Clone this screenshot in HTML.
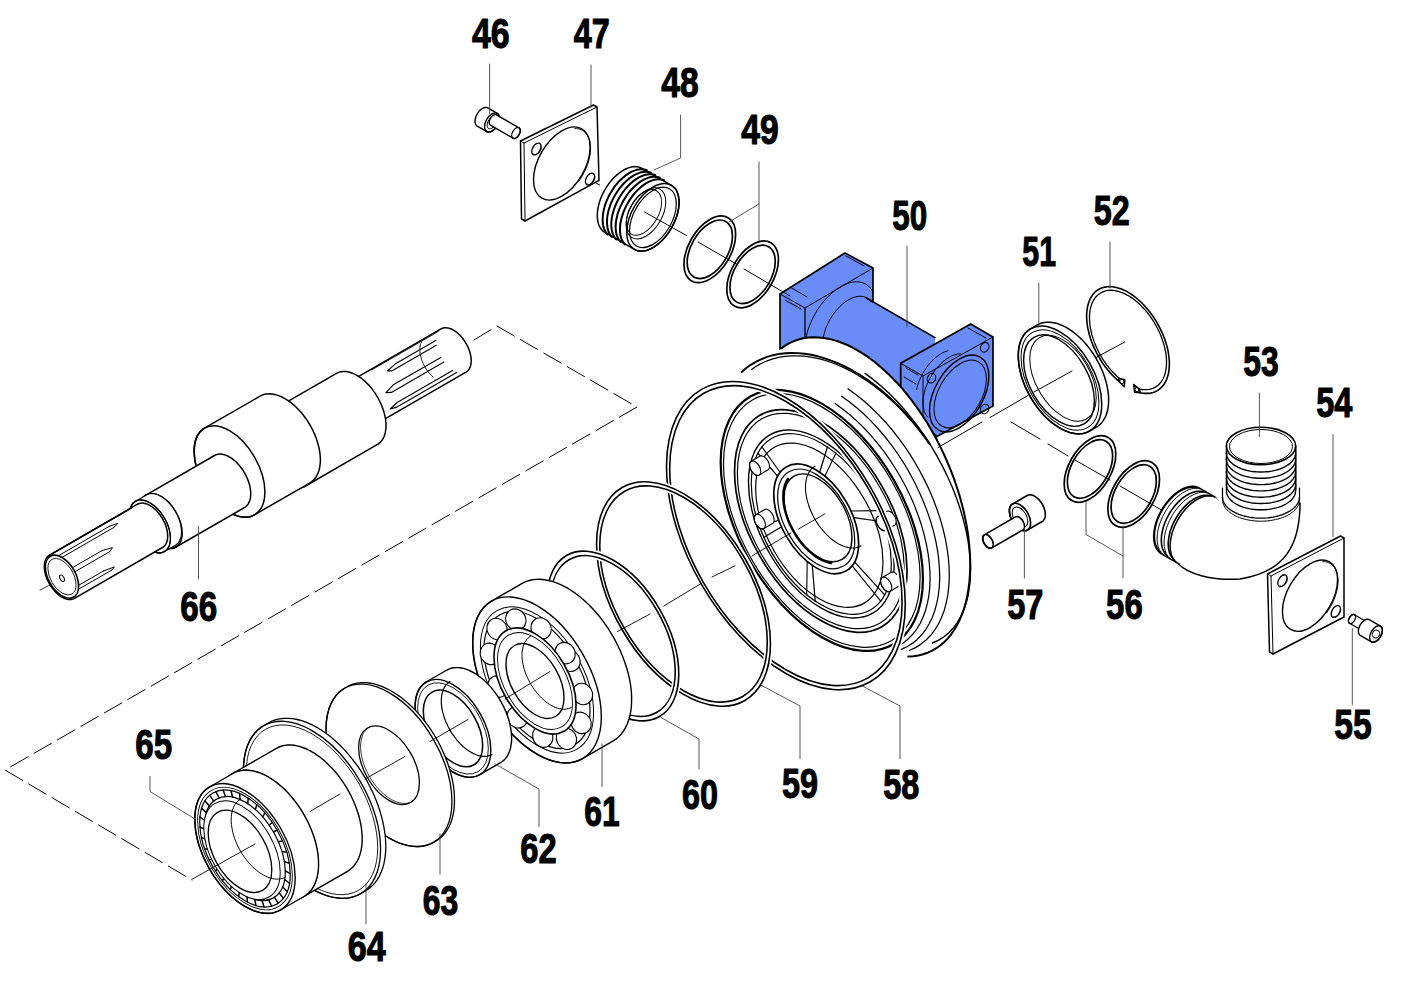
<!DOCTYPE html>
<html><head><meta charset="utf-8"><style>
html,body{margin:0;padding:0;background:#fff;}
svg{display:block;}
.lb{font-family:"Liberation Sans",sans-serif;font-weight:bold;font-size:42.5px;fill:#000;stroke:#000;stroke-width:1.1px;}
</style></head><body>
<svg width="1406" height="988" viewBox="0 0 1406 988" stroke-linejoin="round" stroke-linecap="round">
<rect width="1406" height="988" fill="#fff"/>
<path d="M474 340 L497 326 L637 407 L5 770 L192 880" fill="none" stroke="#000" stroke-width="1.0" stroke-dasharray="20 7"/>
<path d="M441 328.9 L441.9 328.5 L442.9 328.1 L443.9 327.9 L444.9 327.8 L446 327.8 L447.2 327.9 L448.3 328.1 L449.5 328.4 L450.7 328.8 L452 329.3 L453.2 330 L454.4 330.7 L455.7 331.6 L456.9 332.5 L458.1 333.5 L459.3 334.6 L460.4 335.8 L461.5 337 L462.6 338.3 L463.6 339.7 L464.6 341.1 L465.6 342.6 L466.4 344.1 L467.2 345.7 L468 347.2 L468.7 348.8 L469.3 350.4 L469.8 352 L470.2 353.6 L470.6 355.1 L470.9 356.7 L471 358.2 L471.2 359.7 L471.2 361.1 L471.1 362.5 L471 363.8 L470.7 365.1 L470.4 366.3 L470 367.4 L469.5 368.4 L469 369.4 L468.3 370.2 L467.6 371 L466.8 371.7 L466 372.2 L369.5 427.9 L368.6 428.4 L367.6 428.7 L366.6 429 L365.6 429.1 L364.5 429.1 L363.3 429 L362.2 428.8 L361 428.5 L359.8 428 L358.5 427.5 L357.3 426.9 L356.1 426.1 L354.8 425.3 L353.6 424.4 L352.4 423.4 L351.2 422.3 L350.1 421.1 L349 419.8 L347.9 418.5 L346.9 417.2 L345.9 415.7 L344.9 414.3 L344.1 412.7 L343.3 411.2 L342.5 409.6 L341.8 408.1 L341.2 406.5 L340.7 404.9 L340.3 403.3 L339.9 401.7 L339.6 400.2 L339.5 398.6 L339.3 397.2 L339.3 395.7 L339.4 394.3 L339.5 393 L339.8 391.7 L340.1 390.6 L340.5 389.4 L341 388.4 L341.5 387.5 L342.2 386.6 L342.9 385.9 L343.7 385.2 L344.5 384.6Z" fill="#fff" stroke="#000" stroke-width="1.5"/>
<path d="M456.6 372.4 L396.1 407.4 L390.2 408.9 L397.1 402.5 L452.6 370.4" fill="none" stroke="#000" stroke-width="1.1"/>
<path d="M443.9 362.1 L391.4 392.4 L385.9 392.6 L393.3 384.8 L440.8 357.4" fill="none" stroke="#000" stroke-width="1.1"/>
<path d="M436.3 345.2 L391.8 370.9 L387.5 370.9 L396.3 363.2 L435.8 340.4" fill="none" stroke="#000" stroke-width="1.1"/>
<path d="M371.7 369.9 L438.2 331.5" fill="none" stroke="#000" stroke-width="0.9"/>
<path d="M432.9 376.9 L431.7 375.8 L430.6 374.6 L429.4 373.3 L428.3 371.9 L427.3 370.5 L426.3 369.1 L425.3 367.6 L424.4 366 L423.6 364.5 L422.9 362.9 L422.2 361.3 L421.6 359.6 L421.1 358 L420.7 356.4 L420.3 354.8 L420.1 353.2 L419.9 351.7 L419.8 350.2 L419.8 348.8 L419.9 347.4 L420.1 346 L420.4 344.8 L420.8 343.6 L421.2 342.5 L421.7 341.5 L422.3 340.6 L423 339.7" fill="none" stroke="#000" stroke-width="0.9"/>
<path d="M336.5 373.4 L338 372.6 L339.6 372.1 L341.2 371.7 L342.9 371.5 L344.7 371.5 L346.6 371.6 L348.5 372 L350.5 372.5 L352.5 373.2 L354.5 374.1 L356.5 375.1 L358.5 376.3 L360.5 377.7 L362.5 379.2 L364.5 380.9 L366.4 382.7 L368.3 384.6 L370.2 386.7 L371.9 388.8 L373.6 391.1 L375.2 393.4 L376.8 395.8 L378.2 398.3 L379.5 400.8 L380.8 403.4 L381.9 406 L382.8 408.6 L383.7 411.2 L384.4 413.8 L385 416.4 L385.5 418.9 L385.8 421.4 L386 423.8 L386 426.2 L385.9 428.5 L385.6 430.7 L385.3 432.7 L384.7 434.7 L384.1 436.5 L383.3 438.2 L382.4 439.8 L381.3 441.2 L380.2 442.4 L378.9 443.5 L377.5 444.4 L305.5 486 L304 486.7 L302.4 487.3 L300.8 487.6 L299.1 487.8 L297.3 487.9 L295.4 487.7 L293.5 487.4 L291.5 486.8 L289.5 486.1 L287.5 485.3 L285.5 484.2 L283.5 483 L281.5 481.6 L279.5 480.1 L277.5 478.5 L275.6 476.7 L273.7 474.7 L271.8 472.7 L270.1 470.5 L268.4 468.3 L266.8 465.9 L265.2 463.5 L263.8 461 L262.5 458.5 L261.3 455.9 L260.1 453.3 L259.2 450.7 L258.3 448.1 L257.6 445.5 L257 443 L256.5 440.4 L256.2 437.9 L256 435.5 L256 433.1 L256.1 430.9 L256.4 428.7 L256.8 426.6 L257.3 424.7 L257.9 422.8 L258.7 421.1 L259.6 419.6 L260.7 418.2 L261.8 416.9 L263.1 415.9 L264.5 414.9Z" fill="#fff" stroke="#000" stroke-width="1.5"/>
<ellipse cx="285" cy="450.5" rx="23.7" ry="41" transform="rotate(-30 285 450.5)" fill="none" stroke="#000" stroke-width="1.5"/>
<path d="M260 396.2 L261.8 395.3 L263.7 394.6 L265.7 394.1 L267.9 393.9 L270.1 393.8 L272.3 394 L274.7 394.4 L277 395.1 L279.5 395.9 L281.9 397 L284.4 398.3 L286.9 399.8 L289.3 401.4 L291.7 403.3 L294.2 405.3 L296.5 407.5 L298.8 409.9 L301.1 412.3 L303.2 415 L305.3 417.7 L307.3 420.6 L309.1 423.5 L310.9 426.5 L312.5 429.6 L314 432.8 L315.3 435.9 L316.5 439.1 L317.5 442.3 L318.4 445.5 L319.2 448.6 L319.7 451.7 L320.1 454.7 L320.3 457.7 L320.4 460.6 L320.2 463.3 L319.9 466 L319.5 468.5 L318.8 470.9 L318 473.1 L317 475.2 L315.9 477.1 L314.7 478.8 L313.2 480.3 L311.7 481.6 L310 482.8 L254.5 514.8 L252.7 515.7 L250.8 516.4 L248.8 516.9 L246.6 517.1 L244.4 517.1 L242.2 516.9 L239.8 516.5 L237.5 515.9 L235 515 L232.6 513.9 L230.1 512.7 L227.6 511.2 L225.2 509.5 L222.8 507.7 L220.3 505.6 L218 503.5 L215.7 501.1 L213.4 498.6 L211.3 496 L209.2 493.2 L207.3 490.4 L205.4 487.4 L203.6 484.4 L202 481.3 L200.5 478.2 L199.2 475 L198 471.8 L197 468.7 L196.1 465.5 L195.3 462.3 L194.8 459.3 L194.4 456.2 L194.2 453.3 L194.2 450.4 L194.3 447.6 L194.6 445 L195.1 442.4 L195.7 440 L196.5 437.8 L197.5 435.7 L198.6 433.9 L199.8 432.1 L201.3 430.6 L202.8 429.3 L204.5 428.2Z" fill="#fff" stroke="#000" stroke-width="1.5"/>
<ellipse cx="229.5" cy="471.5" rx="28.9" ry="50" transform="rotate(-30 229.5 471.5)" fill="none" stroke="#000" stroke-width="1.5"/>
<path d="M214.5 455.5 L215.6 455 L216.7 454.6 L217.9 454.3 L219.2 454.1 L220.5 454.1 L221.9 454.2 L223.3 454.5 L224.7 454.9 L226.2 455.4 L227.7 456 L229.1 456.8 L230.6 457.7 L232.1 458.7 L233.5 459.8 L235 461 L236.4 462.3 L237.8 463.7 L239.1 465.2 L240.4 466.8 L241.7 468.5 L242.9 470.2 L244 471.9 L245 473.7 L246 475.6 L246.9 477.5 L247.7 479.4 L248.4 481.3 L249 483.2 L249.6 485.1 L250 487 L250.3 488.8 L250.6 490.7 L250.7 492.4 L250.7 494.2 L250.6 495.8 L250.5 497.4 L250.2 498.9 L249.8 500.4 L249.3 501.7 L248.7 502.9 L248.1 504.1 L247.3 505.1 L246.4 506 L245.5 506.8 L244.5 507.5 L176 547 L174.9 547.6 L173.8 548 L172.6 548.3 L171.3 548.4 L170 548.4 L168.6 548.3 L167.2 548.1 L165.8 547.7 L164.3 547.2 L162.8 546.5 L161.4 545.8 L159.9 544.9 L158.4 543.9 L157 542.8 L155.5 541.5 L154.1 540.2 L152.7 538.8 L151.4 537.3 L150.1 535.7 L148.8 534.1 L147.7 532.4 L146.5 530.6 L145.5 528.8 L144.5 526.9 L143.6 525.1 L142.8 523.2 L142.1 521.3 L141.5 519.3 L140.9 517.4 L140.5 515.6 L140.2 513.7 L139.9 511.9 L139.8 510.1 L139.8 508.4 L139.9 506.7 L140 505.1 L140.3 503.6 L140.7 502.2 L141.2 500.8 L141.8 499.6 L142.4 498.5 L143.2 497.4 L144.1 496.5 L145 495.7 L146 495.1Z" fill="#fff" stroke="#000" stroke-width="1.5"/>
<ellipse cx="161" cy="521" rx="17.3" ry="30" transform="rotate(-30 161 521)" fill="none" stroke="#000" stroke-width="1.5"/>
<path d="M146.5 494.9 L147.5 494.4 L148.7 494 L149.8 493.7 L151.1 493.6 L152.3 493.6 L153.7 493.7 L155 493.9 L156.4 494.3 L157.8 494.8 L159.2 495.4 L160.6 496.2 L162.1 497 L163.5 498 L164.9 499.1 L166.3 500.2 L167.7 501.5 L169 502.9 L170.3 504.3 L171.6 505.8 L172.8 507.4 L173.9 509.1 L175 510.8 L176 512.6 L176.9 514.3 L177.8 516.2 L178.6 518 L179.3 519.8 L179.9 521.7 L180.4 523.5 L180.8 525.4 L181.1 527.2 L181.4 528.9 L181.5 530.6 L181.5 532.3 L181.4 533.9 L181.3 535.4 L181 536.9 L180.6 538.3 L180.1 539.6 L179.6 540.8 L178.9 541.9 L178.2 542.9 L177.4 543.8 L176.5 544.5 L175.5 545.2 L164.5 551.5 L163.5 552 L162.3 552.4 L161.2 552.7 L159.9 552.8 L158.7 552.9 L157.3 552.7 L156 552.5 L154.6 552.1 L153.2 551.6 L151.8 551 L150.4 550.3 L148.9 549.4 L147.5 548.5 L146.1 547.4 L144.7 546.2 L143.3 544.9 L142 543.6 L140.7 542.1 L139.4 540.6 L138.2 539 L137.1 537.3 L136 535.6 L135 533.9 L134.1 532.1 L133.2 530.3 L132.4 528.4 L131.7 526.6 L131.1 524.8 L130.6 522.9 L130.2 521.1 L129.9 519.3 L129.6 517.5 L129.5 515.8 L129.5 514.1 L129.6 512.5 L129.7 511 L130 509.5 L130.4 508.2 L130.9 506.9 L131.4 505.7 L132.1 504.6 L132.8 503.6 L133.6 502.7 L134.5 501.9 L135.5 501.3Z" fill="#fff" stroke="#000" stroke-width="1.2"/>
<ellipse cx="150" cy="526.4" rx="16.7" ry="29" transform="rotate(-30 150 526.4)" fill="none" stroke="#000" stroke-width="1.2"/>
<ellipse cx="150" cy="526.4" rx="16.7" ry="29" transform="rotate(-30 150 526.4)" fill="none" stroke="#000" stroke-width="1.2"/>
<path d="M137.5 504.2 L138.4 503.8 L139.4 503.5 L140.4 503.2 L141.4 503.1 L142.5 503.1 L143.7 503.2 L144.8 503.4 L146 503.7 L147.2 504.1 L148.5 504.7 L149.7 505.3 L150.9 506 L152.2 506.9 L153.4 507.8 L154.6 508.8 L155.8 509.9 L156.9 511.1 L158 512.3 L159.1 513.7 L160.1 515 L161.1 516.5 L162.1 517.9 L162.9 519.4 L163.7 521 L164.5 522.5 L165.2 524.1 L165.8 525.7 L166.3 527.3 L166.7 528.9 L167.1 530.5 L167.4 532 L167.5 533.5 L167.7 535 L167.7 536.5 L167.6 537.8 L167.5 539.2 L167.2 540.4 L166.9 541.6 L166.5 542.7 L166 543.8 L165.5 544.7 L164.8 545.6 L164.1 546.3 L163.3 547 L162.5 547.5 L74.5 598.4 L73.6 598.8 L72.6 599.1 L71.6 599.4 L70.6 599.5 L69.5 599.5 L68.3 599.4 L67.2 599.2 L66 598.9 L64.8 598.5 L63.5 597.9 L62.3 597.3 L61.1 596.6 L59.8 595.7 L58.6 594.8 L57.4 593.8 L56.2 592.7 L55.1 591.5 L54 590.3 L52.9 588.9 L51.9 587.6 L50.9 586.1 L49.9 584.7 L49.1 583.2 L48.3 581.6 L47.5 580.1 L46.8 578.5 L46.2 576.9 L45.7 575.3 L45.3 573.7 L44.9 572.1 L44.6 570.6 L44.5 569.1 L44.3 567.6 L44.3 566.1 L44.4 564.8 L44.5 563.4 L44.8 562.2 L45.1 561 L45.5 559.9 L46 558.8 L46.5 557.9 L47.2 557 L47.9 556.3 L48.7 555.6 L49.5 555.1Z" fill="#fff" stroke="#000" stroke-width="1.5"/>
<path d="M63.5 597.9 L111.9 570" fill="none" stroke="#000" stroke-width="1.0"/>
<path d="M60.2 595.9 L103.6 570.9" fill="none" stroke="#000" stroke-width="1.0"/>
<path d="M111.9 570 L114.4 566.9 L103.6 570.9" fill="none" stroke="#000" stroke-width="1.0"/>
<path d="M50.6 585.8 L109.6 551.7" fill="none" stroke="#000" stroke-width="1.0"/>
<path d="M48.3 581.6 L102.2 550.5" fill="none" stroke="#000" stroke-width="1.0"/>
<path d="M109.6 551.7 L112.5 547.6 L102.2 550.5" fill="none" stroke="#000" stroke-width="1.0"/>
<path d="M44.3 567.6 L113.9 527.4" fill="none" stroke="#000" stroke-width="1.0"/>
<path d="M44.5 563.8 L109 526.5" fill="none" stroke="#000" stroke-width="1.0"/>
<path d="M113.9 527.4 L117.9 523.3 L109 526.5" fill="none" stroke="#000" stroke-width="1.0"/>
<path d="M47.2 557 L127.3 510.8" fill="none" stroke="#000" stroke-width="1.0"/>
<path d="M49.3 555.2 L124.4 511.8" fill="none" stroke="#000" stroke-width="1.0"/>
<path d="M127.3 510.8 L132.1 507.6 L124.4 511.8" fill="none" stroke="#000" stroke-width="1.0"/>
<path d="M54.6 552.2 L128.6 509.5" fill="none" stroke="#000" stroke-width="1.0"/>
<ellipse cx="62" cy="576.7" rx="13.6" ry="23.5" transform="rotate(-30 62 576.7)" fill="#fff" stroke="#000" stroke-width="1.6"/>
<ellipse cx="62" cy="576.7" rx="11.5" ry="20" transform="rotate(-30 62 576.7)" fill="none" stroke="#000" stroke-width="0.8"/>
<ellipse cx="62" cy="578.2" rx="2" ry="3.5" transform="rotate(-30 62 578.2)" fill="none" stroke="#000" stroke-width="1.0"/>
<path d="M40 590 L52 584" fill="none" stroke="#000" stroke-width="0.8"/>
<path d="M780 294 L845 253 L873 268 L873 350 L805 372 L780 372Z" fill="#6a8cf8" stroke="#000" stroke-width="1.7"/>
<path d="M780 294 L805 308 L873 268" fill="none" stroke="#000" stroke-width="1.0"/>
<path d="M805 308 L805 372" fill="none" stroke="#000" stroke-width="1.3"/>
<path d="M790 287 L807 297" fill="none" stroke="#000" stroke-width="1.0"/>
<path d="M785 300 L801 309" fill="none" stroke="#000" stroke-width="1.0"/>
<path d="M846 256 L864 266" fill="none" stroke="#000" stroke-width="1.0"/>
<path d="M805.2 353.4 L804.9 350.6 L804.9 347.8 L805 344.8 L805.3 341.8 L805.8 338.7 L806.5 335.6 L807.3 332.4 L808.2 329.2 L809.4 325.9 L810.7 322.7 L812.1 319.6 L813.7 316.4 L815.4 313.3 L817.2 310.3 L819.1 307.4 L821.2 304.5 L823.3 301.8 L825.5 299.2 L827.8 296.8 L830.2 294.5 L832.6 292.4 L835 290.4 L837.5 288.6 L840 287 L842.5 285.6 L845 284.5 L847.4 283.5 L849.8 282.7 L852.2 282.2 L854.6 281.9 L856.8 281.8 L859 281.9 L861.1 282.3 L863.1 282.9 L865 283.7 L866.7 284.7 L868.4 285.9 L869.9 287.4 L871.2 289 L872.4 290.8 L873.5 292.8" fill="none" stroke="#000" stroke-width="1.0"/>
<path d="M866 297.7 L935 337.6 L935 420 L920 413.4 L830 361.5Z" fill="#6a8cf8" stroke="#000" stroke-width="0"/>
<path d="M866 297.7 L935 337.6" fill="none" stroke="#000" stroke-width="1.6"/>
<path d="M830 361.5 L920 413.4" fill="none" stroke="#000" stroke-width="1.4"/>
<path d="M823.5 351.9 L823.1 350.1 L822.8 348.1 L822.7 346.1 L822.6 344.1 L822.7 341.9 L822.9 339.7 L823.3 337.4 L823.8 335.1 L824.4 332.8 L825.1 330.5 L825.9 328.1 L826.9 325.8 L827.9 323.5 L829.1 321.2 L830.3 318.9 L831.7 316.7 L833.1 314.6 L834.6 312.6 L836.1 310.6 L837.8 308.7 L839.4 306.9 L841.2 305.3 L842.9 303.7 L844.7 302.3 L846.5 301 L848.3 299.9 L850.2 298.9 L852 298.1 L853.8 297.4 L855.5 296.9 L857.2 296.5 L858.9 296.3 L860.6 296.3 L862.1 296.4 L863.7 296.7 L865.1 297.2 L866.4 297.8 L867.7 298.6 L868.9 299.5 L869.9 300.6 L870.9 301.8" fill="none" stroke="#000" stroke-width="1.0"/>
<path d="M900.7 363.3 L970.7 324 L993 337 L993 406 L923 444 L900.7 431Z" fill="#6a8cf8" stroke="#000" stroke-width="1.7"/>
<path d="M900.7 363.3 L923 376 L993 337" fill="none" stroke="#000" stroke-width="1.0"/>
<path d="M923 376 L923 444" fill="none" stroke="#000" stroke-width="1.0"/>
<path d="M906 368 L918 375" fill="none" stroke="#000" stroke-width="1.0"/>
<path d="M904 377 L916 384" fill="none" stroke="#000" stroke-width="1.0"/>
<path d="M968 328 L986 338" fill="none" stroke="#000" stroke-width="1.0"/>
<ellipse cx="959.2" cy="393.5" rx="24.2" ry="42" transform="rotate(30 959.2 393.5)" fill="none" stroke="#000" stroke-width="1.4"/>
<ellipse cx="960.2" cy="394" rx="21.4" ry="37" transform="rotate(30 960.2 394)" fill="none" stroke="#000" stroke-width="1.0"/>
<path d="M927.8 417.2 L926.8 416 L925.9 414.6 L925.1 413.1 L924.4 411.5 L923.9 409.8 L923.5 407.9 L923.2 406 L923.1 403.9 L923 401.8 L923.2 399.6 L923.4 397.4 L923.8 395 L924.3 392.7 L924.9 390.3 L925.6 387.9 L926.5 385.6 L927.5 383.2 L928.6 380.8 L929.8 378.5 L931.1 376.2 L932.4 374 L933.9 371.8 L935.4 369.8 L937 367.8 L938.7 365.9 L940.4 364.1 L942.2 362.4 L944 360.9 L945.8 359.5 L947.7 358.2 L949.5 357.1 L951.4 356.1 L953.2 355.3 L955 354.7 L956.8 354.2 L958.6 353.9 L960.3 353.7" fill="none" stroke="#000" stroke-width="1.0"/>
<path d="M916.6 389.6 L917.1 387.3 L917.8 384.9 L918.6 382.6 L919.5 380.3 L920.5 377.9 L921.6 375.6 L922.8 373.4 L924.1 371.1 L925.5 369 L926.9 366.9 L928.5 364.9 L930.1 363 L931.7 361.2 L933.4 359.5 L935.2 357.9 L937 356.5 L938.8 355.1 L940.6 354 L942.4 352.9 L944.2 352.1 L946 351.4 L947.8 350.8" fill="none" stroke="#000" stroke-width="0.9"/>
<ellipse cx="984.7" cy="347.3" rx="4" ry="5" transform="rotate(30 984.7 347.3)" fill="none" stroke="#000" stroke-width="1.1"/>
<ellipse cx="931.5" cy="378.2" rx="4" ry="5" transform="rotate(30 931.5 378.2)" fill="none" stroke="#000" stroke-width="1.1"/>
<ellipse cx="984.7" cy="409" rx="4" ry="5" transform="rotate(30 984.7 409)" fill="none" stroke="#000" stroke-width="1.1"/>
<ellipse cx="932.6" cy="438.7" rx="4" ry="5" transform="rotate(30 932.6 438.7)" fill="none" stroke="#000" stroke-width="1.1"/>
<ellipse cx="860.8" cy="496.9" rx="93.3" ry="169.6" transform="rotate(-23.8 860.8 496.9)" fill="#fff" stroke="#000" stroke-width="0"/>
<path d="M781.1 348.5 L785.2 345.6 L789.4 343.1 L793.9 341.1 L798.5 339.5 L803.3 338.3 L808.2 337.5 L813.3 337.2 L818.5 337.4 L823.9 337.9 L829.3 338.9 L834.8 340.4 L840.4 342.2 L846.1 344.5 L851.8 347.2 L857.5 350.3 L863.2 353.8 L869 357.7 L874.7 362 L880.3 366.7 L885.9 371.7 L891.5 377.1 L896.9 382.7 L902.3 388.7 L907.5 395 L912.6 401.6 L917.6 408.5 L922.4 415.5 L927.1 422.8 L931.5 430.3 L935.8 438 L939.9 445.9 L943.7 453.9 L947.3 462 L950.7 470.2 L953.9 478.4 L956.7 486.8 L959.4 495.1 L961.7 503.5 L963.8 511.8 L965.6 520.1 L967.1 528.4 L968.3 536.5 L969.2 544.6 L969.8 552.5 L970.2 560.2 L970.2 567.8 L969.9 575.2 L969.3 582.4 L968.4 589.3 L967.3 596 L965.8 602.4 L964.1 608.6 L962 614.4 L959.7 619.9 L957.1 625 L954.3 629.8 L951.2 634.3 L947.9 638.4 L944.3 642 L940.5 645.3 L936.4 648.2 L932.2 650.7 L927.7 652.7 L923.1 654.3 L918.3 655.5 L913.4 656.3 L908.3 656.6" fill="none" stroke="#000" stroke-width="2.0"/>
<path d="M741.7 371.9 L746.3 368.1 L751.1 364.6 L756.2 361.6 L761.6 359.1 L767.1 356.9 L772.9 355.2 L778.9 354 L785.1 353.3 L791.4 353 L797.9 353.1 L804.5 353.7 L811.2 354.8 L818 356.3 L824.9 358.3 L831.8 360.8 L838.8 363.6 L845.8 366.9 L852.8 370.7 L859.8 374.8 L866.7 379.3 L873.5 384.3 L880.3 389.6 L887 395.2 L893.6 401.2 L900 407.6 L906.3 414.2 L912.5 421.1 L918.4 428.4 L924.1 435.8 L929.6 443.5" fill="none" stroke="#000" stroke-width="1.9"/>
<path d="M751.6 369.4 L756.5 366.1 L761.7 363.2 L767.2 360.8 L772.8 358.9 L778.7 357.4 L784.8 356.4 L791.1 355.8 L797.5 355.8 L804 356.2 L810.7 357.1 L817.5 358.4 L824.4 360.2 L831.3 362.5 L838.3 365.2 L845.3 368.4 L852.3 372 L859.2 376 L866.2 380.4 L873.1 385.3 L879.9 390.5 L886.6 396.1 L893.2 402.1 L899.7 408.4 L906 415 L912.2 421.9 L918.1 429.1 L923.9 436.6 L929.4 444.3" fill="none" stroke="#000" stroke-width="1.25"/>
<ellipse cx="821.8" cy="520.4" rx="82.6" ry="143" transform="rotate(-30 821.8 520.4)" fill="#fff" stroke="#000" stroke-width="2.2"/>
<path d="M865.1 373.4 L873.1 379.4 L881 386 L888.8 393.1 L896.5 400.8 L903.9 409 L911.1 417.7 L918.1 426.7 L924.7 436.2 L931 445.9 L936.9 455.9 L942.4 466.1 L947.5 476.5 L952.2 487 L956.3 497.6 L960 508.2 L963.1 518.7 L965.7 529.1 L967.8 539.4 L969.3 549.4 L970.2 559.2 L970.6 568.7 L970.3 577.8 L969.5 586.5 L968.2 594.8 L966.3 602.6 L963.8 609.8 L960.8 616.5 L957.2 622.6 L953.2 628.1 L948.7 632.9 L943.7 637 L938.3 640.4 L932.4 643" fill="none" stroke="#000" stroke-width="1.4"/>
<path d="M835.2 403.6 L842.6 408.9 L849.8 414.7 L857 421.1 L864 428 L870.8 435.3 L877.4 443.1 L883.7 451.2 L889.7 459.7 L895.4 468.5 L900.8 477.5 L905.8 486.7 L910.3 496.1 L914.5 505.6 L918.1 515.2 L921.4 524.8 L924.1 534.3 L926.3 543.8 L928 553.1 L929.2 562.2 L929.9 571.2 L930.1 579.8 L929.7 588.1 L928.8 596.1 L927.3 603.7 L925.4 610.8 L922.9 617.5 L920 623.7 L916.6 629.3 L912.7 634.3 L908.3 638.8 L903.6 642.7 L898.5 645.9 L892.9 648.4" fill="none" stroke="#000" stroke-width="1.25"/>
<path d="M841.6 396.2 L849.2 401.7 L856.7 407.7 L864.1 414.3 L871.3 421.4 L878.4 429 L885.2 437 L891.7 445.4 L898 454.2 L903.9 463.3 L909.4 472.6 L914.5 482.2 L919.2 491.9 L923.5 501.7 L927.3 511.6 L930.7 521.5 L933.5 531.4 L935.8 541.1 L937.6 550.8 L938.8 560.2 L939.5 569.5 L939.7 578.4 L939.3 587 L938.3 595.3 L936.8 603.1 L934.8 610.5 L932.3 617.4 L929.2 623.8 L925.7 629.6 L921.7 634.8 L917.2 639.4 L912.3 643.4 L907 646.7 L901.3 649.4" fill="none" stroke="#000" stroke-width="1.25"/>
<path d="M847.9 388.8 L855.8 394.4 L863.6 400.7 L871.2 407.5 L878.7 414.9 L886 422.7 L893 431 L899.7 439.7 L906.2 448.7 L912.3 458.1 L918 467.7 L923.3 477.6 L928.2 487.6 L932.6 497.8 L936.5 508 L940 518.2 L942.9 528.4 L945.3 538.5 L947.1 548.5 L948.4 558.3 L949.1 567.8 L949.3 577 L948.8 585.9 L947.9 594.4 L946.3 602.5 L944.3 610.2 L941.6 617.3 L938.5 623.9 L934.8 629.9 L930.7 635.3 L926.1 640 L921 644.1 L915.5 647.6 L909.6 650.3" fill="none" stroke="#000" stroke-width="1.25"/>
<ellipse cx="821.8" cy="520.4" rx="80.3" ry="139" transform="rotate(-30 821.8 520.4)" fill="none" stroke="#000" stroke-width="1.2"/>
<ellipse cx="820.8" cy="521" rx="70.4" ry="122" transform="rotate(-30 820.8 521)" fill="none" stroke="#000" stroke-width="1.7"/>
<ellipse cx="820.8" cy="521" rx="68.1" ry="118" transform="rotate(-30 820.8 521)" fill="none" stroke="#000" stroke-width="1.2"/>
<ellipse cx="821.3" cy="524" rx="59.5" ry="103" transform="rotate(-30 821.3 524)" fill="none" stroke="#000" stroke-width="1.4"/>
<ellipse cx="821.3" cy="524" rx="57.2" ry="99" transform="rotate(-30 821.3 524)" fill="none" stroke="#000" stroke-width="1.2"/>
<ellipse cx="819.3" cy="525.2" rx="52" ry="90" transform="rotate(-30 819.3 525.2)" fill="none" stroke="#000" stroke-width="1.2"/>
<path d="M815.2 601 L812.3 565.7" fill="none" stroke="#000" stroke-width="1.25"/>
<path d="M806.7 594.7 L807.2 561.8" fill="none" stroke="#000" stroke-width="1.1"/>
<path d="M764 537.3 L781.2 527" fill="none" stroke="#000" stroke-width="1.25"/>
<path d="M759.5 526.3 L778.5 520.4" fill="none" stroke="#000" stroke-width="1.1"/>
<path d="M757.9 453.2 L777.5 476.1" fill="none" stroke="#000" stroke-width="1.25"/>
<path d="M761.9 446.9 L780 472.3" fill="none" stroke="#000" stroke-width="1.1"/>
<path d="M827.4 447 L819.7 472.3" fill="none" stroke="#000" stroke-width="1.25"/>
<path d="M835.9 453.3 L824.8 476.2" fill="none" stroke="#000" stroke-width="1.1"/>
<path d="M878.6 510.7 L850.8 511" fill="none" stroke="#000" stroke-width="1.25"/>
<path d="M883.1 521.7 L853.5 517.6" fill="none" stroke="#000" stroke-width="1.1"/>
<path d="M884.7 594.8 L854.5 561.9" fill="none" stroke="#000" stroke-width="1.25"/>
<path d="M880.7 601.1 L852 565.7" fill="none" stroke="#000" stroke-width="1.1"/>
<path d="M764.4 509.7 L764.7 509.5 L765 509.4 L765.4 509.3 L765.7 509.3 L766 509.3 L766.4 509.3 L766.8 509.4 L767.2 509.5 L767.6 509.6 L767.9 509.8 L768.3 510 L768.7 510.3 L769.1 510.5 L769.5 510.8 L769.9 511.1 L770.3 511.5 L770.6 511.9 L771 512.3 L771.4 512.7 L771.7 513.1 L772 513.6 L772.3 514.1 L772.6 514.5 L772.8 515 L773.1 515.5 L773.3 516 L773.5 516.6 L773.6 517.1 L773.8 517.6 L773.9 518.1 L774 518.6 L774.1 519.1 L774.1 519.5 L774.1 520 L774.1 520.4 L774 520.9 L773.9 521.3 L773.8 521.6 L773.7 522 L773.6 522.3 L773.4 522.6 L773.2 522.9 L773 523.1 L772.7 523.4 L772.4 523.5 L763.8 528.5 L763.5 528.7 L763.2 528.8 L762.9 528.9 L762.5 528.9 L762.2 528.9 L761.8 528.9 L761.4 528.8 L761.1 528.7 L760.7 528.6 L760.3 528.4 L759.9 528.2 L759.5 528 L759.1 527.7 L758.7 527.4 L758.3 527.1 L757.9 526.7 L757.6 526.3 L757.2 525.9 L756.9 525.5 L756.5 525.1 L756.2 524.6 L755.9 524.2 L755.6 523.7 L755.4 523.2 L755.1 522.7 L754.9 522.2 L754.7 521.7 L754.6 521.2 L754.4 520.6 L754.3 520.1 L754.2 519.6 L754.2 519.2 L754.1 518.7 L754.1 518.2 L754.1 517.8 L754.2 517.4 L754.3 517 L754.4 516.6 L754.5 516.2 L754.7 515.9 L754.8 515.6 L755 515.3 L755.3 515.1 L755.5 514.9 L755.8 514.7Z" fill="#fff" stroke="#000" stroke-width="1.1"/>
<ellipse cx="759.8" cy="521.6" rx="4.6" ry="8" transform="rotate(-30 759.8 521.6)" fill="none" stroke="#000" stroke-width="1.1"/>
<path d="M759.8 456.3 L760.1 456.1 L760.4 456 L760.7 455.9 L761.1 455.9 L761.4 455.9 L761.8 455.9 L762.2 456 L762.5 456.1 L762.9 456.2 L763.3 456.4 L763.7 456.6 L764.1 456.8 L764.5 457.1 L764.9 457.4 L765.3 457.7 L765.7 458.1 L766 458.4 L766.4 458.8 L766.7 459.3 L767.1 459.7 L767.4 460.2 L767.7 460.6 L768 461.1 L768.2 461.6 L768.5 462.1 L768.7 462.6 L768.9 463.1 L769 463.6 L769.2 464.1 L769.3 464.6 L769.4 465.1 L769.4 465.6 L769.5 466.1 L769.5 466.6 L769.5 467 L769.4 467.4 L769.3 467.8 L769.2 468.2 L769.1 468.6 L768.9 468.9 L768.8 469.2 L768.6 469.5 L768.3 469.7 L768.1 469.9 L767.8 470.1 L759.2 475.1 L758.9 475.3 L758.6 475.4 L758.2 475.4 L757.9 475.5 L757.5 475.5 L757.2 475.4 L756.8 475.4 L756.4 475.3 L756 475.1 L755.7 475 L755.3 474.8 L754.9 474.5 L754.5 474.3 L754.1 474 L753.7 473.6 L753.3 473.3 L752.9 472.9 L752.6 472.5 L752.2 472.1 L751.9 471.7 L751.6 471.2 L751.3 470.7 L751 470.2 L750.8 469.8 L750.5 469.3 L750.3 468.7 L750.1 468.2 L750 467.7 L749.8 467.2 L749.7 466.7 L749.6 466.2 L749.5 465.7 L749.5 465.3 L749.5 464.8 L749.5 464.4 L749.6 463.9 L749.6 463.5 L749.7 463.1 L749.9 462.8 L750 462.5 L750.2 462.2 L750.4 461.9 L750.6 461.6 L750.9 461.4 L751.2 461.3Z" fill="#fff" stroke="#000" stroke-width="1.1"/>
<ellipse cx="755.2" cy="468.2" rx="4.6" ry="8" transform="rotate(-30 755.2 468.2)" fill="none" stroke="#000" stroke-width="1.1"/>
<path d="M886.4 511.4 L886.7 511.3 L887 511.2 L887.4 511.1 L887.7 511 L888.1 511 L888.4 511.1 L888.8 511.1 L889.2 511.2 L889.6 511.4 L890 511.5 L890.3 511.7 L890.7 512 L891.1 512.2 L891.5 512.5 L891.9 512.9 L892.3 513.2 L892.7 513.6 L893 514 L893.4 514.4 L893.7 514.9 L894 515.3 L894.3 515.8 L894.6 516.3 L894.8 516.8 L895.1 517.3 L895.3 517.8 L895.5 518.3 L895.7 518.8 L895.8 519.3 L895.9 519.8 L896 520.3 L896.1 520.8 L896.1 521.3 L896.1 521.7 L896.1 522.2 L896 522.6 L896 523 L895.9 523.4 L895.7 523.7 L895.6 524.1 L895.4 524.4 L895.2 524.6 L895 524.9 L894.7 525.1 L894.4 525.3 L885.8 530.3 L885.5 530.4 L885.2 530.5 L884.9 530.6 L884.5 530.6 L884.2 530.6 L883.8 530.6 L883.4 530.5 L883.1 530.4 L882.7 530.3 L882.3 530.1 L881.9 529.9 L881.5 529.7 L881.1 529.4 L880.7 529.1 L880.3 528.8 L879.9 528.4 L879.6 528.1 L879.2 527.7 L878.9 527.3 L878.5 526.8 L878.2 526.4 L877.9 525.9 L877.6 525.4 L877.4 524.9 L877.1 524.4 L876.9 523.9 L876.7 523.4 L876.6 522.9 L876.4 522.4 L876.3 521.9 L876.2 521.4 L876.2 520.9 L876.1 520.4 L876.1 520 L876.1 519.5 L876.2 519.1 L876.3 518.7 L876.4 518.3 L876.5 517.9 L876.7 517.6 L876.8 517.3 L877 517 L877.3 516.8 L877.5 516.6 L877.8 516.4Z" fill="#fff" stroke="#000" stroke-width="1.1"/>
<ellipse cx="881.8" cy="523.3" rx="4.6" ry="8" transform="rotate(-30 881.8 523.3)" fill="none" stroke="#000" stroke-width="1.1"/>
<path d="M890.9 572.5 L891.2 572.3 L891.5 572.2 L891.8 572.1 L892.1 572.1 L892.5 572.1 L892.8 572.1 L893.2 572.2 L893.6 572.3 L894 572.4 L894.4 572.6 L894.8 572.8 L895.2 573 L895.6 573.3 L896 573.6 L896.3 573.9 L896.7 574.3 L897.1 574.7 L897.4 575.1 L897.8 575.5 L898.1 575.9 L898.4 576.4 L898.7 576.8 L899 577.3 L899.3 577.8 L899.5 578.3 L899.7 578.8 L899.9 579.3 L900.1 579.9 L900.2 580.4 L900.3 580.9 L900.4 581.4 L900.5 581.8 L900.5 582.3 L900.5 582.8 L900.5 583.2 L900.5 583.6 L900.4 584 L900.3 584.4 L900.2 584.8 L900 585.1 L899.8 585.4 L899.6 585.7 L899.4 585.9 L899.1 586.1 L898.9 586.3 L890.2 591.3 L889.9 591.5 L889.6 591.6 L889.3 591.7 L889 591.7 L888.6 591.7 L888.2 591.7 L887.9 591.6 L887.5 591.5 L887.1 591.4 L886.7 591.2 L886.3 591 L885.9 590.7 L885.5 590.5 L885.1 590.2 L884.8 589.9 L884.4 589.5 L884 589.1 L883.6 588.7 L883.3 588.3 L883 587.9 L882.7 587.4 L882.4 586.9 L882.1 586.5 L881.8 586 L881.6 585.5 L881.4 585 L881.2 584.5 L881 583.9 L880.9 583.4 L880.8 582.9 L880.7 582.4 L880.6 582 L880.6 581.5 L880.6 581 L880.6 580.6 L880.6 580.1 L880.7 579.7 L880.8 579.4 L880.9 579 L881.1 578.7 L881.3 578.4 L881.5 578.1 L881.7 577.9 L881.9 577.6 L882.2 577.5Z" fill="#fff" stroke="#000" stroke-width="1.1"/>
<ellipse cx="886.2" cy="584.4" rx="4.6" ry="8" transform="rotate(-30 886.2 584.4)" fill="none" stroke="#000" stroke-width="1.1"/>
<ellipse cx="816.2" cy="518.9" rx="34.6" ry="60" transform="rotate(-30 816.2 518.9)" fill="#fff" stroke="#000" stroke-width="1.7"/>
<ellipse cx="816.2" cy="518.9" rx="31.5" ry="54.5" transform="rotate(-30 816.2 518.9)" fill="none" stroke="#000" stroke-width="1.2"/>
<ellipse cx="818" cy="517.8" rx="27.7" ry="48" transform="rotate(-30 818 517.8)" fill="none" stroke="#000" stroke-width="1.4"/>
<path d="M861 545.8 L859.3 546.7 L857.6 547.3 L855.7 547.7 L853.8 548 L851.7 548 L849.7 547.8 L847.5 547.4 L845.3 546.8 L843.1 546 L840.8 545.1 L838.6 543.9 L836.3 542.5 L834 541 L831.8 539.3 L829.6 537.4 L827.4 535.4 L825.3 533.2 L823.2 530.9 L821.2 528.5 L819.3 526 L817.5 523.4 L815.8 520.7 L814.2 517.9 L812.7 515 L811.4 512.2 L810.1 509.2 L809 506.3 L808.1 503.4 L807.2 500.5 L806.6 497.6 L806.1 494.7 L805.7 491.9 L805.5 489.2 L805.5 486.6 L805.6 484 L805.9 481.6 L806.3 479.3 L806.9 477.1 L807.6 475 L808.5 473.1 L809.6 471.4 L810.7 469.8 L812 468.4 L813.5 467.2 L815 466.2" fill="none" stroke="#000" stroke-width="1.1"/>
<path d="M831.2 563 L828.8 562.5 L826.4 561.8 L824 560.9 L821.5 559.8 L819 558.4 L816.5 556.9 L814 555.2 L811.6 553.2 L809.2 551.2 L806.8 548.9 L804.5 546.5 L802.2 543.9 L800.1 541.2 L798 538.4 L796 535.5 L794.2 532.5 L792.5 529.5 L790.9 526.3 L789.4 523.2 L788.1 520 L786.9 516.7 L785.9 513.5 L785 510.3 L784.4 507.2 L783.8 504.1 L783.5 501 L783.3 498 L783.3 495.2 L783.5 492.4 L783.8 489.7 L784.4 487.2 L785 484.9 L785.9 482.6 L786.9 480.6 L788.1 478.7" fill="none" stroke="#000" stroke-width="2.4"/>
<ellipse cx="785.9" cy="535.6" rx="96.2" ry="166.6" transform="rotate(-30 785.9 535.6)" fill="none" stroke="#fff" stroke-width="8.5"/>
<ellipse cx="785.9" cy="535.6" rx="97.5" ry="168.8" transform="rotate(-30 785.9 535.6)" fill="none" stroke="#000" stroke-width="1.6"/>
<ellipse cx="785.9" cy="535.6" rx="94.9" ry="164.3" transform="rotate(-30 785.9 535.6)" fill="none" stroke="#000" stroke-width="1.6"/>
<ellipse cx="683.5" cy="594" rx="69.7" ry="120.7" transform="rotate(-30 683.5 594)" fill="none" stroke="#fff" stroke-width="8.5"/>
<ellipse cx="683.5" cy="594" rx="71" ry="122.9" transform="rotate(-30 683.5 594)" fill="none" stroke="#000" stroke-width="1.6"/>
<ellipse cx="683.5" cy="594" rx="68.4" ry="118.4" transform="rotate(-30 683.5 594)" fill="none" stroke="#000" stroke-width="1.6"/>
<ellipse cx="613" cy="636" rx="52.3" ry="90.5" transform="rotate(-30 613 636)" fill="none" stroke="#fff" stroke-width="9.0"/>
<ellipse cx="613" cy="636" rx="53.7" ry="93" transform="rotate(-30 613 636)" fill="none" stroke="#000" stroke-width="1.6"/>
<ellipse cx="613" cy="636" rx="50.8" ry="88" transform="rotate(-30 613 636)" fill="none" stroke="#000" stroke-width="1.6"/>
<path d="M521.8 583.6 L525.1 581.9 L528.6 580.7 L532.3 579.8 L536.1 579.4 L540.1 579.3 L544.3 579.7 L548.5 580.5 L552.8 581.6 L557.2 583.2 L561.7 585.1 L566.2 587.4 L570.7 590.1 L575.2 593.2 L579.6 596.5 L584 600.2 L588.3 604.2 L592.5 608.5 L596.5 613 L600.5 617.8 L604.2 622.8 L607.8 628 L611.2 633.4 L614.4 638.9 L617.3 644.5 L620 650.2 L622.5 656 L624.6 661.7 L626.5 667.5 L628.2 673.3 L629.5 679 L630.5 684.7 L631.2 690.2 L631.6 695.6 L631.6 700.8 L631.4 705.9 L630.9 710.7 L630 715.3 L628.8 719.6 L627.4 723.7 L625.6 727.4 L623.6 730.9 L621.3 734 L618.7 736.8 L615.9 739.2 L612.8 741.2 L582.5 758.7 L579.2 760.3 L575.7 761.6 L572 762.4 L568.2 762.9 L564.2 762.9 L560.1 762.6 L555.8 761.8 L551.5 760.6 L547.1 759.1 L542.6 757.1 L538.1 754.8 L533.6 752.1 L529.2 749.1 L524.7 745.7 L520.3 742 L516.1 738 L511.9 733.8 L507.8 729.2 L503.9 724.4 L500.1 719.4 L496.5 714.2 L493.1 708.9 L489.9 703.4 L487 697.8 L484.3 692.1 L481.8 686.3 L479.7 680.5 L477.8 674.7 L476.2 668.9 L474.8 663.2 L473.8 657.6 L473.1 652.1 L472.7 646.7 L472.7 641.4 L472.9 636.4 L473.4 631.6 L474.3 627 L475.5 622.6 L476.9 618.6 L478.7 614.8 L480.7 611.4 L483 608.3 L485.6 605.5 L488.4 603.1 L491.5 601.1Z" fill="#fff" stroke="#000" stroke-width="1.4"/>
<ellipse cx="537" cy="679.9" rx="52.5" ry="91" transform="rotate(-30 537 679.9)" fill="none" stroke="#000" stroke-width="1.4"/>
<ellipse cx="537" cy="679.9" rx="46.2" ry="80" transform="rotate(-30 537 679.9)" fill="none" stroke="#000" stroke-width="1.0"/>
<ellipse cx="537" cy="679.9" rx="43.3" ry="75" transform="rotate(-30 537 679.9)" fill="#fff" stroke="#000" stroke-width="1.2"/>
<ellipse cx="570" cy="660.8" rx="9.9" ry="11" transform="rotate(-30 570 660.8)" fill="#fff" stroke="#000" stroke-width="1.1"/>
<ellipse cx="582.5" cy="694" rx="9.9" ry="11" transform="rotate(-30 582.5 694)" fill="#fff" stroke="#000" stroke-width="1.1"/>
<ellipse cx="581.1" cy="722.9" rx="9.9" ry="11" transform="rotate(-30 581.1 722.9)" fill="#fff" stroke="#000" stroke-width="1.1"/>
<ellipse cx="566.4" cy="738.7" rx="9.9" ry="11" transform="rotate(-30 566.4 738.7)" fill="#fff" stroke="#000" stroke-width="1.1"/>
<ellipse cx="542.7" cy="736.6" rx="9.9" ry="11" transform="rotate(-30 542.7 736.6)" fill="#fff" stroke="#000" stroke-width="1.1"/>
<ellipse cx="517.3" cy="717.3" rx="9.9" ry="11" transform="rotate(-30 517.3 717.3)" fill="#fff" stroke="#000" stroke-width="1.1"/>
<ellipse cx="497.9" cy="686.6" rx="9.9" ry="11" transform="rotate(-30 497.9 686.6)" fill="#fff" stroke="#000" stroke-width="1.1"/>
<ellipse cx="490.3" cy="653.9" rx="9.9" ry="11" transform="rotate(-30 490.3 653.9)" fill="#fff" stroke="#000" stroke-width="1.1"/>
<ellipse cx="497" cy="629" rx="9.9" ry="11" transform="rotate(-30 497 629)" fill="#fff" stroke="#000" stroke-width="1.1"/>
<ellipse cx="515.8" cy="619.6" rx="9.9" ry="11" transform="rotate(-30 515.8 619.6)" fill="#fff" stroke="#000" stroke-width="1.1"/>
<ellipse cx="541.1" cy="628.5" rx="9.9" ry="11" transform="rotate(-30 541.1 628.5)" fill="#fff" stroke="#000" stroke-width="1.1"/>
<ellipse cx="565.1" cy="653.1" rx="9.9" ry="11" transform="rotate(-30 565.1 653.1)" fill="#fff" stroke="#000" stroke-width="1.1"/>
<ellipse cx="535" cy="681" rx="33.5" ry="58" transform="rotate(-30 535 681)" fill="#fff" stroke="#000" stroke-width="1.6"/>
<ellipse cx="535" cy="681" rx="30.6" ry="53" transform="rotate(-30 535 681)" fill="none" stroke="#000" stroke-width="0.9"/>
<ellipse cx="535" cy="681" rx="23.7" ry="41" transform="rotate(-30 535 681)" fill="#fff" stroke="#000" stroke-width="1.4"/>
<path d="M571.5 707.3 L570 708 L568.4 708.6 L566.8 709 L565.1 709.2 L563.3 709.2 L561.4 709 L559.5 708.7 L557.5 708.2 L555.5 707.5 L553.5 706.6 L551.5 705.6 L549.5 704.4 L547.5 703 L545.5 701.5 L543.5 699.8 L541.6 698 L539.7 696.1 L537.8 694 L536.1 691.9 L534.4 689.6 L532.8 687.3 L531.2 684.9 L529.8 682.4 L528.5 679.9 L527.3 677.3 L526.1 674.7 L525.2 672.1 L524.3 669.5 L523.6 666.9 L523 664.3 L522.5 661.8 L522.2 659.3 L522 656.8 L522 654.5 L522.1 652.2 L522.4 650 L522.8 648 L523.3 646 L523.9 644.2 L524.7 642.5 L525.6 640.9 L526.7 639.5 L527.8 638.3 L529.1 637.2 L530.5 636.3" fill="none" stroke="#000" stroke-width="1.0"/>
<path d="M447 670 L449 669.1 L451 668.3 L453.2 667.8 L455.4 667.6 L457.8 667.6 L460.2 667.8 L462.7 668.2 L465.3 668.9 L467.9 669.8 L470.5 671 L473.1 672.3 L475.8 673.9 L478.4 675.7 L481 677.7 L483.6 679.8 L486.1 682.2 L488.6 684.7 L491 687.4 L493.3 690.2 L495.5 693.1 L497.6 696.2 L499.6 699.3 L501.5 702.6 L503.2 705.9 L504.8 709.2 L506.2 712.6 L507.5 716 L508.6 719.4 L509.6 722.8 L510.3 726.2 L510.9 729.5 L511.3 732.7 L511.6 735.9 L511.6 739 L511.5 741.9 L511.1 744.8 L510.6 747.5 L510 750 L509.1 752.4 L508.1 754.6 L506.9 756.7 L505.5 758.5 L504 760.1 L502.3 761.5 L500.5 762.7 L479.8 774.7 L477.8 775.7 L475.8 776.4 L473.6 776.9 L471.3 777.2 L469 777.2 L466.6 777 L464.1 776.5 L461.5 775.9 L458.9 774.9 L456.3 773.8 L453.7 772.4 L451 770.9 L448.4 769.1 L445.8 767.1 L443.2 764.9 L440.7 762.6 L438.2 760.1 L435.8 757.4 L433.5 754.6 L431.3 751.6 L429.2 748.6 L427.2 745.4 L425.3 742.2 L423.6 738.9 L422 735.5 L420.6 732.2 L419.3 728.7 L418.2 725.3 L417.2 721.9 L416.5 718.6 L415.9 715.3 L415.5 712 L415.2 708.9 L415.2 705.8 L415.3 702.8 L415.6 700 L416.1 697.3 L416.8 694.7 L417.7 692.3 L418.7 690.1 L419.9 688.1 L421.3 686.3 L422.8 684.6 L424.4 683.2 L426.2 682Z" fill="#fff" stroke="#000" stroke-width="1.4"/>
<ellipse cx="453" cy="728.4" rx="30.9" ry="53.5" transform="rotate(-30 453 728.4)" fill="none" stroke="#000" stroke-width="1.4"/>
<ellipse cx="453" cy="728.4" rx="28.9" ry="50" transform="rotate(-30 453 728.4)" fill="none" stroke="#000" stroke-width="0.8"/>
<ellipse cx="453" cy="728.4" rx="24.2" ry="42" transform="rotate(-30 453 728.4)" fill="#fff" stroke="#000" stroke-width="1.5"/>
<path d="M492 754.4 L490.5 755.1 L488.9 755.7 L487.2 756.1 L485.4 756.3 L483.6 756.3 L481.6 756.1 L479.7 755.8 L477.7 755.3 L475.6 754.5 L473.6 753.6 L471.5 752.6 L469.4 751.3 L467.4 749.9 L465.3 748.4 L463.3 746.7 L461.3 744.8 L459.4 742.9 L457.5 740.8 L455.7 738.5 L454 736.2 L452.3 733.8 L450.7 731.4 L449.3 728.8 L447.9 726.2 L446.7 723.6 L445.5 720.9 L444.5 718.3 L443.7 715.6 L442.9 712.9 L442.3 710.3 L441.8 707.7 L441.5 705.1 L441.3 702.7 L441.3 700.2 L441.4 697.9 L441.7 695.7 L442.1 693.6 L442.6 691.6 L443.3 689.7 L444.1 688 L445 686.4 L446.1 684.9 L447.3 683.7 L448.6 682.5 L450 681.6" fill="none" stroke="#000" stroke-width="1.2"/>
<path d="M347.1 686.8 L350.3 685.1 L353.7 683.9 L357.3 683.1 L361.1 682.7 L365 682.6 L369 683 L373.2 683.7 L377.4 684.8 L381.8 686.4 L386.1 688.3 L390.5 690.5 L394.9 693.2 L399.3 696.1 L403.6 699.4 L407.9 703 L412.1 706.9 L416.2 711.1 L420.2 715.6 L424 720.3 L427.7 725.1 L431.2 730.2 L434.5 735.5 L437.6 740.8 L440.5 746.3 L443.1 751.9 L445.5 757.5 L447.7 763.2 L449.5 768.9 L451.1 774.5 L452.4 780.1 L453.4 785.6 L454.1 791 L454.4 796.3 L454.5 801.4 L454.3 806.4 L453.8 811.1 L452.9 815.6 L451.8 819.8 L450.4 823.8 L448.6 827.5 L446.6 830.8 L444.4 833.9 L441.9 836.6 L439.1 838.9 L436.1 840.9 L433.5 842.4 L430.3 844 L426.9 845.2 L423.3 846.1 L419.5 846.5 L415.6 846.5 L411.6 846.2 L407.4 845.4 L403.2 844.3 L398.8 842.8 L394.5 840.9 L390.1 838.6 L385.7 836 L381.3 833 L377 829.7 L372.7 826.1 L368.5 822.2 L364.4 818 L360.4 813.6 L356.6 808.9 L352.9 804 L349.4 798.9 L346.1 793.7 L343 788.3 L340.1 782.8 L337.4 777.2 L335.1 771.6 L332.9 765.9 L331.1 760.3 L329.5 754.6 L328.2 749 L327.2 743.5 L326.5 738.1 L326.2 732.8 L326.1 727.7 L326.3 722.8 L326.8 718.1 L327.7 713.6 L328.8 709.3 L330.2 705.4 L332 701.7 L334 698.3 L336.2 695.3 L338.7 692.6 L341.5 690.2 L344.5 688.3Z" fill="#fff" stroke="#000" stroke-width="1.3"/>
<ellipse cx="389" cy="765.3" rx="51.4" ry="89" transform="rotate(-30 389 765.3)" fill="none" stroke="#000" stroke-width="1.3"/>
<ellipse cx="389" cy="765.3" rx="24.8" ry="43" transform="rotate(-30 389 765.3)" fill="none" stroke="#000" stroke-width="1.3"/>
<path d="M412.5 801.4 L410.9 802.2 L409.3 802.8 L407.6 803.2 L405.7 803.4 L403.8 803.4 L401.9 803.2 L399.9 802.9 L397.8 802.3 L395.8 801.6 L393.7 800.7 L391.5 799.6 L389.4 798.3 L387.3 796.9 L385.2 795.3 L383.1 793.5 L381.1 791.7 L379.1 789.6 L377.2 787.5 L375.3 785.2 L373.6 782.9 L371.9 780.4 L370.3 777.9 L368.8 775.3 L367.4 772.6 L366.1 769.9 L364.9 767.2 L363.9 764.5 L363 761.7 L362.3 759 L361.6 756.3 L361.2 753.6 L360.8 751 L360.6 748.5 L360.6 746 L360.7 743.6 L361 741.3 L361.4 739.2 L361.9 737.1 L362.6 735.2 L363.4 733.4 L364.4 731.8 L365.5 730.3 L366.7 729 L368.1 727.9 L369.5 726.9" fill="none" stroke="#000" stroke-width="0.8"/>
<path d="M268.7 722.8 L272.2 721 L275.9 719.7 L279.8 718.8 L283.9 718.3 L288.2 718.3 L292.6 718.7 L297.1 719.5 L301.8 720.7 L306.5 722.4 L311.2 724.4 L316 726.9 L320.8 729.8 L325.6 733 L330.3 736.6 L334.9 740.5 L339.5 744.8 L344 749.4 L348.3 754.2 L352.5 759.3 L356.5 764.6 L360.4 770.2 L364 775.9 L367.4 781.7 L370.5 787.7 L373.4 793.8 L376 799.9 L378.3 806.1 L380.3 812.3 L382 818.4 L383.4 824.5 L384.5 830.5 L385.3 836.4 L385.7 842.2 L385.8 847.8 L385.5 853.1 L384.9 858.3 L384 863.2 L382.8 867.8 L381.2 872.1 L379.4 876.1 L377.2 879.8 L374.7 883.1 L372 886.1 L369 888.6 L365.7 890.8 L360.5 893.8 L357 895.5 L353.3 896.9 L349.4 897.8 L345.3 898.3 L341 898.3 L336.6 897.9 L332.1 897.1 L327.4 895.9 L322.7 894.2 L318 892.1 L313.2 889.7 L308.4 886.8 L303.6 883.6 L298.9 880 L294.2 876 L289.7 871.8 L285.2 867.2 L280.9 862.4 L276.7 857.3 L272.7 851.9 L268.8 846.4 L265.2 840.7 L261.8 834.8 L258.7 828.8 L255.8 822.8 L253.2 816.6 L250.9 810.5 L248.9 804.3 L247.1 798.1 L245.7 792 L244.7 786 L243.9 780.1 L243.5 774.4 L243.4 768.8 L243.7 763.4 L244.3 758.3 L245.2 753.4 L246.4 748.8 L248 744.4 L249.8 740.4 L252 736.8 L254.5 733.4 L257.2 730.5 L260.2 727.9 L263.5 725.8Z" fill="#fff" stroke="#000" stroke-width="1.3"/>
<ellipse cx="312" cy="809.8" rx="56" ry="97" transform="rotate(-30 312 809.8)" fill="none" stroke="#000" stroke-width="1.3"/>
<ellipse cx="312" cy="809.8" rx="53.7" ry="93" transform="rotate(-30 312 809.8)" fill="none" stroke="#000" stroke-width="0.8"/>
<path d="M292.9 854 L289.1 849.5 L285.4 844.9 L282 840 L278.7 835 L275.6 829.8 L272.7 824.5 L270.1 819.1 L267.7 813.7 L265.5 808.2 L263.7 802.7 L262.1 797.2 L260.8 791.7 L259.8 786.3 L259.1 781.1 L258.7 776 L258.6 771 L258.8 766.2" fill="none" stroke="#000" stroke-width="1.2"/>
<path d="M276.5 748.3 L279.1 747 L281.8 746 L284.7 745.4 L287.7 745 L290.8 745 L294 745.3 L297.3 745.9 L300.7 746.8 L304.1 748 L307.6 749.5 L311.1 751.3 L314.6 753.4 L318.1 755.8 L321.6 758.4 L325 761.3 L328.3 764.4 L331.6 767.7 L334.8 771.3 L337.9 775 L340.8 778.9 L343.6 783 L346.2 787.2 L348.7 791.4 L351 795.8 L353.1 800.3 L355 804.8 L356.7 809.3 L358.2 813.8 L359.5 818.3 L360.5 822.8 L361.3 827.2 L361.8 831.5 L362.1 835.7 L362.2 839.8 L362 843.7 L361.6 847.5 L360.9 851.1 L360 854.4 L358.9 857.6 L357.5 860.6 L355.9 863.2 L354.1 865.7 L352.1 867.8 L349.9 869.7 L347.5 871.3 L303.5 896.7 L300.9 898 L298.2 898.9 L295.3 899.6 L292.3 899.9 L289.2 900 L286 899.7 L282.7 899.1 L279.3 898.2 L275.9 897 L272.4 895.5 L268.9 893.7 L265.4 891.6 L261.9 889.2 L258.4 886.6 L255 883.7 L251.7 880.6 L248.4 877.2 L245.2 873.7 L242.1 869.9 L239.2 866 L236.4 862 L233.8 857.8 L231.3 853.5 L229 849.1 L226.9 844.7 L225 840.2 L223.3 835.7 L221.8 831.2 L220.5 826.7 L219.5 822.2 L218.7 817.8 L218.2 813.5 L217.9 809.3 L217.8 805.2 L218 801.3 L218.4 797.5 L219.1 793.9 L220 790.5 L221.1 787.4 L222.5 784.4 L224.1 781.7 L225.9 779.3 L227.9 777.1 L230.1 775.3 L232.5 773.7Z" fill="#fff" stroke="#000" stroke-width="1.4"/>
<ellipse cx="268" cy="835.2" rx="41" ry="71" transform="rotate(-30 268 835.2)" fill="none" stroke="#000" stroke-width="1.4"/>
<path d="M232.9 773.5 L235.4 772.2 L238.2 771.2 L241 770.6 L244 770.2 L247.2 770.2 L250.4 770.5 L253.7 771.1 L257.1 772 L260.5 773.2 L264 774.7 L267.5 776.5 L271 778.6 L274.5 781 L278 783.6 L281.4 786.5 L284.7 789.6 L288 792.9 L291.2 796.5 L294.2 800.2 L297.2 804.1 L300 808.2 L302.6 812.3 L305.1 816.6 L307.4 821 L309.5 825.5 L311.4 830 L313.1 834.5 L314.6 839 L315.9 843.5 L316.9 848 L317.7 852.4 L318.2 856.7 L318.5 860.9 L318.6 865 L318.4 868.9 L318 872.7 L317.3 876.2 L316.4 879.6 L315.3 882.8 L313.9 885.7 L312.3 888.4 L310.5 890.8 L308.5 893 L306.3 894.9 L303.9 896.5 L280.5 910 L277.9 911.2 L275.2 912.2 L272.3 912.9 L269.3 913.2 L266.2 913.3 L263 913 L259.7 912.4 L256.3 911.5 L252.9 910.3 L249.4 908.7 L245.9 906.9 L242.4 904.8 L238.9 902.5 L235.4 899.8 L232 897 L228.7 893.8 L225.4 890.5 L222.2 887 L219.1 883.2 L216.2 879.3 L213.4 875.3 L210.8 871.1 L208.3 866.8 L206 862.4 L203.9 858 L202 853.5 L200.3 849 L198.8 844.4 L197.5 839.9 L196.5 835.5 L195.7 831.1 L195.2 826.8 L194.9 822.6 L194.8 818.5 L195 814.5 L195.4 810.8 L196.1 807.2 L197 803.8 L198.1 800.6 L199.5 797.7 L201.1 795 L202.9 792.6 L204.9 790.4 L207.1 788.6 L209.5 787Z" fill="#fff" stroke="#000" stroke-width="1.4"/>
<ellipse cx="245" cy="848.5" rx="41" ry="71" transform="rotate(-30 245 848.5)" fill="none" stroke="#000" stroke-width="1.4"/>
<ellipse cx="245" cy="848.5" rx="38.7" ry="67" transform="rotate(-30 245 848.5)" fill="none" stroke="#000" stroke-width="0.9"/>
<ellipse cx="245" cy="848.5" rx="37" ry="64" transform="rotate(-30 245 848.5)" fill="none" stroke="#000" stroke-width="1.2"/>
<ellipse cx="245" cy="848.5" rx="32.9" ry="57" transform="rotate(-30 245 848.5)" fill="none" stroke="#000" stroke-width="1.2"/>
<path d="M273.5 832 L277 830" fill="none" stroke="#000" stroke-width="1.5"/>
<path d="M278.4 841.7 L282.5 840.9" fill="none" stroke="#000" stroke-width="1.5"/>
<path d="M282.1 851.7 L286.7 852.1" fill="none" stroke="#000" stroke-width="1.5"/>
<path d="M284.4 861.6 L289.3 863.2" fill="none" stroke="#000" stroke-width="1.5"/>
<path d="M285.3 870.9 L290.2 873.7" fill="none" stroke="#000" stroke-width="1.5"/>
<path d="M284.7 879.5 L289.6 883.3" fill="none" stroke="#000" stroke-width="1.5"/>
<path d="M282.6 886.9 L287.2 891.6" fill="none" stroke="#000" stroke-width="1.5"/>
<path d="M279.2 892.9 L283.4 898.3" fill="none" stroke="#000" stroke-width="1.5"/>
<path d="M274.5 897.2 L278.1 903.2" fill="none" stroke="#000" stroke-width="1.5"/>
<path d="M268.7 899.8 L271.6 906.1" fill="none" stroke="#000" stroke-width="1.5"/>
<path d="M262 900.5 L264.1 906.9" fill="none" stroke="#000" stroke-width="1.5"/>
<path d="M254.8 899.3 L255.9 905.5" fill="none" stroke="#000" stroke-width="1.5"/>
<path d="M247.1 896.2 L247.4 902" fill="none" stroke="#000" stroke-width="1.5"/>
<path d="M239.4 891.3 L238.7 896.6" fill="none" stroke="#000" stroke-width="1.5"/>
<path d="M231.9 884.9 L230.3 889.4" fill="none" stroke="#000" stroke-width="1.5"/>
<path d="M224.8 877.1 L222.4 880.7" fill="none" stroke="#000" stroke-width="1.5"/>
<path d="M218.6 868.3 L215.3 870.8" fill="none" stroke="#000" stroke-width="1.5"/>
<path d="M213.2 858.8 L209.3 860" fill="none" stroke="#000" stroke-width="1.5"/>
<path d="M209.1 848.9 L204.7 848.9" fill="none" stroke="#000" stroke-width="1.5"/>
<path d="M206.3 838.9 L201.5 837.8" fill="none" stroke="#000" stroke-width="1.5"/>
<path d="M204.8 829.3 L199.9 827" fill="none" stroke="#000" stroke-width="1.5"/>
<path d="M204.9 820.5 L200 817" fill="none" stroke="#000" stroke-width="1.5"/>
<path d="M206.5 812.6 L201.7 808.2" fill="none" stroke="#000" stroke-width="1.5"/>
<path d="M209.4 806.1 L205 800.9" fill="none" stroke="#000" stroke-width="1.5"/>
<path d="M213.7 801.1 L209.8 795.3" fill="none" stroke="#000" stroke-width="1.5"/>
<path d="M219.1 797.9 L215.9 791.6" fill="none" stroke="#000" stroke-width="1.5"/>
<path d="M225.5 796.5 L223.1 790.1" fill="none" stroke="#000" stroke-width="1.5"/>
<path d="M232.5 797 L231 790.7" fill="none" stroke="#000" stroke-width="1.5"/>
<path d="M240.1 799.4 L239.5 793.4" fill="none" stroke="#000" stroke-width="1.5"/>
<path d="M247.8 803.7 L248.2 798.2" fill="none" stroke="#000" stroke-width="1.5"/>
<path d="M255.4 809.5 L256.7 804.8" fill="none" stroke="#000" stroke-width="1.5"/>
<path d="M262.7 816.8 L264.8 813" fill="none" stroke="#000" stroke-width="1.5"/>
<path d="M269.3 825.3 L272.2 822.5" fill="none" stroke="#000" stroke-width="1.5"/>
<ellipse cx="242" cy="850.2" rx="31.2" ry="54" transform="rotate(-30 242 850.2)" fill="#fff" stroke="#000" stroke-width="1.0"/>
<ellipse cx="240" cy="851.4" rx="26" ry="45" transform="rotate(-30 240 851.4)" fill="#fff" stroke="#000" stroke-width="1.3"/>
<path d="M285.5 877 L283.9 877.9 L282.1 878.5 L280.3 878.9 L278.4 879.1 L276.4 879.1 L274.4 879 L272.3 878.6 L270.2 878 L268 877.2 L265.8 876.3 L263.6 875.1 L261.3 873.8 L259.1 872.3 L256.9 870.6 L254.8 868.8 L252.6 866.8 L250.6 864.7 L248.6 862.5 L246.6 860.1 L244.7 857.6 L243 855.1 L241.3 852.4 L239.7 849.7 L238.3 846.9 L236.9 844.1 L235.7 841.2 L234.6 838.4 L233.7 835.5 L232.9 832.7 L232.3 829.8 L231.8 827 L231.4 824.3 L231.2 821.6 L231.2 819.1 L231.3 816.6 L231.6 814.2 L232 811.9 L232.6 809.8 L233.3 807.8 L234.2 805.9 L235.2 804.2 L236.3 802.7 L237.6 801.3 L239 800.1 L240.5 799.1" fill="none" stroke="#000" stroke-width="1.0"/>
<ellipse cx="709.8" cy="249.3" rx="19.8" ry="34.2" transform="rotate(30 709.8 249.3)" fill="none" stroke="#fff" stroke-width="8.5"/>
<ellipse cx="709.8" cy="249.3" rx="21.1" ry="36.5" transform="rotate(30 709.8 249.3)" fill="none" stroke="#000" stroke-width="1.7"/>
<ellipse cx="709.8" cy="249.3" rx="18.5" ry="32" transform="rotate(30 709.8 249.3)" fill="none" stroke="#000" stroke-width="1.7"/>
<ellipse cx="752.6" cy="274.4" rx="19.8" ry="34.2" transform="rotate(30 752.6 274.4)" fill="none" stroke="#fff" stroke-width="8.5"/>
<ellipse cx="752.6" cy="274.4" rx="21.1" ry="36.5" transform="rotate(30 752.6 274.4)" fill="none" stroke="#000" stroke-width="1.7"/>
<ellipse cx="752.6" cy="274.4" rx="18.5" ry="32" transform="rotate(30 752.6 274.4)" fill="none" stroke="#000" stroke-width="1.7"/>
<path d="M698 242 L738 265" fill="none" stroke="#000" stroke-width="1.0"/>
<path d="M744 269 L790 296" fill="none" stroke="#000" stroke-width="1.0"/>
<path d="M563.6 165.3 L599.7 185" fill="none" stroke="#000" stroke-width="1.0"/>
<path d="M671.4 185.4 L672.6 186.2 L673.8 187.2 L674.8 188.3 L675.8 189.5 L676.6 190.9 L677.3 192.5 L677.9 194.1 L678.4 195.9 L678.7 197.8 L679 199.7 L679.1 201.8 L679 203.9 L678.9 206.1 L678.6 208.3 L678.2 210.6 L677.6 213 L677 215.3 L676.2 217.7 L675.3 220 L674.3 222.4 L673.2 224.7 L672 227 L670.7 229.2 L669.4 231.4 L667.9 233.5 L666.4 235.5 L664.8 237.5 L663.1 239.3 L661.4 241 L659.7 242.7 L657.9 244.2 L656.1 245.5 L654.3 246.8 L652.4 247.9 L650.6 248.8 L648.8 249.6 L647 250.2 L645.3 250.7 L643.5 251 L641.8 251.2 L640.2 251.1 L638.7 251 L637.2 250.6 L635.7 250.1 L634.4 249.4 L605 232.4 L603.7 231.6 L602.6 230.6 L601.5 229.5 L600.6 228.3 L599.7 226.9 L599 225.3 L598.4 223.7 L598 221.9 L597.6 220 L597.4 218.1 L597.3 216 L597.3 213.9 L597.5 211.7 L597.8 209.5 L598.2 207.2 L598.7 204.8 L599.4 202.5 L600.1 200.1 L601 197.8 L602 195.4 L603.1 193.1 L604.3 190.8 L605.6 188.6 L607 186.4 L608.4 184.3 L610 182.3 L611.6 180.3 L613.2 178.5 L614.9 176.8 L616.7 175.1 L618.5 173.6 L620.3 172.3 L622.1 171 L623.9 169.9 L625.7 169 L627.5 168.2 L629.3 167.6 L631.1 167.1 L632.8 166.8 L634.5 166.6 L636.1 166.7 L637.7 166.8 L639.2 167.2 L640.6 167.7 L642 168.4Z" fill="#fff" stroke="#000" stroke-width="1.5"/>
<ellipse cx="652.9" cy="217.4" rx="21.4" ry="37" transform="rotate(30 652.9 217.4)" fill="none" stroke="#000" stroke-width="1.5"/>
<path d="M624.8 244.4 L623.8 243.2 L622.9 241.8 L622.1 240.3 L621.4 238.6 L620.9 236.9 L620.4 235 L620.2 233 L620 230.9 L620 228.7 L620.1 226.5 L620.3 224.2 L620.7 221.9 L621.2 219.5 L621.8 217.1 L622.6 214.6 L623.4 212.2 L624.4 209.8 L625.5 207.4 L626.7 205 L628 202.7 L629.4 200.4 L630.9 198.2 L632.4 196 L634.1 194 L635.7 192 L637.5 190.2 L639.3 188.5 L641.1 186.9 L643 185.4 L644.8 184.1 L646.7 182.9 L648.6 181.9 L650.5 181.1 L652.3 180.4 L654.2 179.8 L656 179.4 L657.7 179.2 L659.4 179.2 L661.1 179.4 L662.6 179.7 L664.1 180.2" fill="none" stroke="#000" stroke-width="2.0"/>
<path d="M620.5 241.9 L619.5 240.7 L618.6 239.3 L617.8 237.8 L617.1 236.1 L616.5 234.4 L616.1 232.5 L615.8 230.5 L615.7 228.4 L615.6 226.2 L615.8 224 L616 221.7 L616.4 219.4 L616.9 217 L617.5 214.6 L618.2 212.1 L619.1 209.7 L620.1 207.3 L621.2 204.9 L622.4 202.5 L623.7 200.2 L625.1 197.9 L626.5 195.7 L628.1 193.5 L629.7 191.5 L631.4 189.5 L633.2 187.7 L634.9 186 L636.8 184.4 L638.6 182.9 L640.5 181.6 L642.4 180.4 L644.3 179.4 L646.2 178.6 L648 177.9 L649.8 177.3 L651.6 176.9 L653.4 176.7 L655.1 176.7 L656.7 176.9 L658.3 177.2 L659.8 177.7" fill="none" stroke="#000" stroke-width="2.0"/>
<path d="M616.2 239.4 L615.1 238.2 L614.2 236.8 L613.4 235.3 L612.8 233.6 L612.2 231.9 L611.8 230 L611.5 228 L611.3 225.9 L611.3 223.7 L611.4 221.5 L611.7 219.2 L612 216.9 L612.5 214.5 L613.2 212.1 L613.9 209.6 L614.8 207.2 L615.7 204.8 L616.8 202.4 L618 200 L619.3 197.7 L620.7 195.4 L622.2 193.2 L623.8 191 L625.4 189 L627.1 187 L628.8 185.2 L630.6 183.5 L632.4 181.9 L634.3 180.4 L636.2 179.1 L638.1 177.9 L639.9 176.9 L641.8 176.1 L643.7 175.4 L645.5 174.8 L647.3 174.4 L649.1 174.2 L650.8 174.2 L652.4 174.4 L654 174.7 L655.4 175.2" fill="none" stroke="#000" stroke-width="2.0"/>
<path d="M611.8 236.9 L610.8 235.7 L609.9 234.3 L609.1 232.8 L608.4 231.1 L607.9 229.4 L607.5 227.5 L607.2 225.5 L607 223.4 L607 221.2 L607.1 219 L607.3 216.7 L607.7 214.4 L608.2 212 L608.8 209.6 L609.6 207.1 L610.4 204.7 L611.4 202.3 L612.5 199.9 L613.7 197.5 L615 195.2 L616.4 192.9 L617.9 190.7 L619.4 188.5 L621.1 186.5 L622.8 184.5 L624.5 182.7 L626.3 181 L628.1 179.4 L630 177.9 L631.8 176.6 L633.7 175.4 L635.6 174.4 L637.5 173.6 L639.4 172.9 L641.2 172.3 L643 171.9 L644.7 171.7 L646.4 171.7 L648.1 171.9 L649.6 172.2 L651.1 172.7" fill="none" stroke="#000" stroke-width="2.0"/>
<path d="M607.5 234.4 L606.5 233.2 L605.6 231.8 L604.8 230.3 L604.1 228.6 L603.5 226.9 L603.1 225 L602.8 223 L602.7 220.9 L602.7 218.7 L602.8 216.5 L603 214.2 L603.4 211.9 L603.9 209.5 L604.5 207.1 L605.2 204.6 L606.1 202.2 L607.1 199.8 L608.2 197.4 L609.4 195 L610.7 192.7 L612.1 190.4 L613.5 188.2 L615.1 186 L616.7 184 L618.4 182 L620.2 180.2 L622 178.5 L623.8 176.9 L625.6 175.4 L627.5 174.1 L629.4 172.9 L631.3 171.9 L633.2 171.1 L635 170.4 L636.9 169.8 L638.7 169.4 L640.4 169.2 L642.1 169.2 L643.7 169.4 L645.3 169.7 L646.8 170.2" fill="none" stroke="#000" stroke-width="2.0"/>
<ellipse cx="652.9" cy="217.4" rx="19.1" ry="33" transform="rotate(30 652.9 217.4)" fill="none" stroke="#000" stroke-width="1.2"/>
<ellipse cx="645.9" cy="213.4" rx="16.2" ry="28" transform="rotate(30 645.9 213.4)" fill="none" stroke="#000" stroke-width="1.0"/>
<ellipse cx="643.9" cy="212.4" rx="14.4" ry="25" transform="rotate(30 643.9 212.4)" fill="none" stroke="#000" stroke-width="0.9"/>
<path d="M644.6 212 L686.6 235.6" fill="none" stroke="#000" stroke-width="1.0"/>
<path d="M520.5 141 L593.5 105 L597 107 L599 180.4 L525 221 L521.5 219Z" fill="#fff" stroke="#000" stroke-width="1.5"/>
<path d="M525 221 L524 143 L597 107" fill="none" stroke="#000" stroke-width="1.0"/>
<path d="M524 143 L520.5 141" fill="none" stroke="#000" stroke-width="0.9"/>
<ellipse cx="561.8" cy="163.5" rx="23.1" ry="40" transform="rotate(30 561.8 163.5)" fill="none" stroke="#000" stroke-width="1.4"/>
<path d="M574.7 128.6 L576.4 128.6 L578 128.8 L579.6 129.2 L581.1 129.7 L582.5 130.4 L583.8 131.3 L585 132.3 L586.1 133.5 L587.1 134.8 L588 136.3 L588.7 137.9 L589.4 139.7 L589.9 141.5 L590.2 143.5 L590.5 145.6 L590.6 147.7 L590.5 150 L590.4 152.3 L590.1 154.6 L589.6 157.1 L589.1 159.5 L588.4 162 L587.6 164.5 L586.6 167 L585.6 169.4 L584.4 171.9 L583.2 174.3 L581.8 176.6 L580.4 178.9 L578.8 181.2" fill="none" stroke="#000" stroke-width="0.9"/>
<ellipse cx="536.4" cy="149" rx="3.8" ry="6.5" transform="rotate(30 536.4 149)" fill="none" stroke="#000" stroke-width="1.3"/>
<path d="M541.2 146.2 L541.2 146.4 L541.3 146.7 L541.3 147 L541.3 147.3 L541.3 147.7 L541.2 148 L541.2 148.3 L541.1 148.7 L541 149 L540.9 149.4 L540.8 149.7 L540.7 150.1 L540.5 150.4 L540.3 150.8 L540.1 151.1 L540 151.4 L539.7 151.7 L539.5 152 L539.3 152.3 L539 152.6 L538.8 152.9 L538.5 153.1 L538.3 153.4 L538 153.6 L537.7 153.8 L537.5 154 L537.2 154.1 L536.9 154.2 L536.7 154.3 L536.4 154.4 L536.1 154.5 L535.9 154.5 L535.6 154.5 L535.4 154.5 L535.2 154.5 L535 154.4 L534.7 154.3 L534.6 154.2 L534.4 154.1 L534.2 153.9" fill="none" stroke="#000" stroke-width="0.9"/>
<ellipse cx="590" cy="179" rx="3.8" ry="6.5" transform="rotate(30 590 179)" fill="none" stroke="#000" stroke-width="1.3"/>
<path d="M594.8 176.2 L594.8 176.4 L594.9 176.7 L594.9 177 L594.9 177.3 L594.9 177.7 L594.8 178 L594.8 178.3 L594.7 178.7 L594.6 179 L594.5 179.4 L594.4 179.7 L594.3 180.1 L594.1 180.4 L593.9 180.8 L593.8 181.1 L593.6 181.4 L593.3 181.7 L593.1 182 L592.9 182.3 L592.6 182.6 L592.4 182.9 L592.1 183.1 L591.9 183.4 L591.6 183.6 L591.3 183.8 L591.1 184 L590.8 184.1 L590.5 184.2 L590.3 184.3 L590 184.4 L589.7 184.5 L589.5 184.5 L589.2 184.5 L589 184.5 L588.8 184.5 L588.6 184.4 L588.3 184.3 L588.2 184.2 L588 184.1 L587.8 183.9" fill="none" stroke="#000" stroke-width="0.9"/>
<path d="M497.2 113.4 L497.6 113.6 L497.9 113.9 L498.2 114.2 L498.5 114.6 L498.7 115 L498.9 115.4 L499.1 115.9 L499.2 116.4 L499.3 116.9 L499.4 117.5 L499.4 118.1 L499.4 118.7 L499.4 119.3 L499.3 119.9 L499.2 120.6 L499 121.2 L498.8 121.9 L498.6 122.6 L498.4 123.2 L498.1 123.9 L497.8 124.6 L497.4 125.2 L497.1 125.8 L496.7 126.5 L496.3 127.1 L495.8 127.6 L495.4 128.2 L494.9 128.7 L494.4 129.2 L493.9 129.7 L493.4 130.1 L492.9 130.5 L492.4 130.8 L491.9 131.1 L491.4 131.4 L490.8 131.6 L490.3 131.8 L489.8 132 L489.3 132 L488.9 132.1 L488.4 132.1 L488 132 L487.5 131.9 L487.1 131.8 L486.8 131.6 L477.2 126.1 L476.9 125.9 L476.5 125.6 L476.2 125.3 L476 124.9 L475.7 124.5 L475.5 124.1 L475.4 123.6 L475.2 123.1 L475.1 122.6 L475.1 122 L475.1 121.4 L475.1 120.8 L475.1 120.2 L475.2 119.6 L475.3 118.9 L475.5 118.3 L475.6 117.6 L475.9 116.9 L476.1 116.3 L476.4 115.6 L476.7 114.9 L477 114.3 L477.4 113.7 L477.8 113 L478.2 112.4 L478.6 111.9 L479.1 111.3 L479.6 110.8 L480.1 110.3 L480.6 109.8 L481.1 109.4 L481.6 109 L482.1 108.7 L482.6 108.4 L483.1 108.1 L483.6 107.9 L484.1 107.7 L484.6 107.5 L485.1 107.5 L485.6 107.4 L486.1 107.4 L486.5 107.5 L486.9 107.6 L487.3 107.7 L487.7 107.9Z" fill="#fff" stroke="#000" stroke-width="1.4"/>
<ellipse cx="492" cy="122.5" rx="6.1" ry="10.5" transform="rotate(30 492 122.5)" fill="none" stroke="#000" stroke-width="1.4"/>
<ellipse cx="492" cy="122.5" rx="4" ry="7" transform="rotate(30 492 122.5)" fill="none" stroke="#000" stroke-width="0.9"/>
<path d="M519 127.8 L519.2 127.9 L519.4 128.1 L519.6 128.3 L519.7 128.5 L519.8 128.7 L520 129 L520.1 129.2 L520.1 129.5 L520.2 129.8 L520.2 130.1 L520.2 130.5 L520.2 130.8 L520.2 131.2 L520.2 131.5 L520.1 131.9 L520 132.3 L519.9 132.7 L519.8 133 L519.6 133.4 L519.5 133.8 L519.3 134.2 L519.1 134.5 L518.9 134.9 L518.7 135.3 L518.4 135.6 L518.2 135.9 L517.9 136.3 L517.7 136.6 L517.4 136.8 L517.1 137.1 L516.8 137.3 L516.5 137.6 L516.2 137.8 L515.9 137.9 L515.6 138.1 L515.3 138.2 L515 138.3 L514.8 138.4 L514.5 138.5 L514.2 138.5 L513.9 138.5 L513.7 138.4 L513.4 138.4 L513.2 138.3 L513 138.2 L490.5 125.2 L490.3 125.1 L490.1 124.9 L489.9 124.7 L489.8 124.5 L489.6 124.3 L489.5 124 L489.4 123.8 L489.3 123.5 L489.3 123.2 L489.3 122.9 L489.2 122.5 L489.2 122.2 L489.3 121.8 L489.3 121.5 L489.4 121.1 L489.5 120.7 L489.6 120.3 L489.7 120 L489.8 119.6 L490 119.2 L490.2 118.8 L490.4 118.5 L490.6 118.1 L490.8 117.7 L491 117.4 L491.3 117.1 L491.6 116.7 L491.8 116.4 L492.1 116.2 L492.4 115.9 L492.7 115.7 L493 115.4 L493.3 115.2 L493.6 115.1 L493.9 114.9 L494.1 114.8 L494.4 114.7 L494.7 114.6 L495 114.5 L495.3 114.5 L495.5 114.5 L495.8 114.6 L496 114.6 L496.3 114.7 L496.5 114.8Z" fill="#fff" stroke="#000" stroke-width="1.4"/>
<ellipse cx="516" cy="133" rx="3.5" ry="6" transform="rotate(30 516 133)" fill="none" stroke="#000" stroke-width="1.4"/>
<path d="M1037.4 324.9 L1039.6 323.8 L1041.8 323 L1044.2 322.5 L1046.7 322.2 L1049.3 322.2 L1052 322.4 L1054.7 322.9 L1057.5 323.6 L1060.4 324.7 L1063.3 325.9 L1066.2 327.4 L1069.1 329.2 L1072 331.1 L1074.9 333.3 L1077.7 335.7 L1080.5 338.3 L1083.2 341.1 L1085.9 344 L1088.4 347.1 L1090.9 350.4 L1093.2 353.7 L1095.4 357.2 L1097.4 360.8 L1099.4 364.4 L1101.1 368.1 L1102.7 371.8 L1104.1 375.6 L1105.3 379.3 L1106.4 383.1 L1107.2 386.8 L1107.9 390.5 L1108.3 394 L1108.6 397.5 L1108.6 400.9 L1108.5 404.2 L1108.1 407.3 L1107.6 410.3 L1106.8 413.1 L1105.9 415.8 L1104.7 418.2 L1103.4 420.4 L1101.9 422.4 L1100.2 424.2 L1098.4 425.8 L1096.4 427.1 L1089.5 431.1 L1087.4 432.2 L1085.1 433 L1082.7 433.5 L1080.2 433.8 L1077.6 433.8 L1075 433.6 L1072.2 433.1 L1069.4 432.4 L1066.5 431.3 L1063.6 430.1 L1060.7 428.6 L1057.8 426.8 L1054.9 424.9 L1052 422.7 L1049.2 420.3 L1046.4 417.7 L1043.7 414.9 L1041.1 412 L1038.5 408.9 L1036.1 405.6 L1033.7 402.3 L1031.5 398.8 L1029.5 395.2 L1027.6 391.6 L1025.8 387.9 L1024.2 384.2 L1022.8 380.4 L1021.6 376.7 L1020.6 372.9 L1019.7 369.2 L1019 365.5 L1018.6 362 L1018.3 358.5 L1018.3 355.1 L1018.4 351.8 L1018.8 348.7 L1019.3 345.7 L1020.1 342.9 L1021.1 340.2 L1022.2 337.8 L1023.5 335.6 L1025 333.6 L1026.7 331.8 L1028.5 330.2 L1030.5 328.9Z" fill="#fff" stroke="#000" stroke-width="1.5"/>
<ellipse cx="1060" cy="380" rx="34.1" ry="59" transform="rotate(-30 1060 380)" fill="none" stroke="#000" stroke-width="1.5"/>
<ellipse cx="1060" cy="380" rx="31.8" ry="55" transform="rotate(-30 1060 380)" fill="none" stroke="#000" stroke-width="1.0"/>
<ellipse cx="1059" cy="380.6" rx="28.9" ry="50" transform="rotate(-30 1059 380.6)" fill="none" stroke="#000" stroke-width="1.4"/>
<ellipse cx="1063" cy="378.3" rx="27.1" ry="47" transform="rotate(-30 1063 378.3)" fill="none" stroke="#000" stroke-width="1.0"/>
<path d="M938 447.5 L982 422" fill="none" stroke="#000" stroke-width="1.0"/>
<path d="M990 417.5 L1028 395.5" fill="none" stroke="#000" stroke-width="1.0"/>
<path d="M1034 392 L1072 371" fill="none" stroke="#000" stroke-width="1.0"/>
<path d="M1096 357.5 L1124.7 342" fill="none" stroke="#000" stroke-width="1.0"/>
<path d="M1118.7 381.2 L1115.9 378.7 L1113.1 376 L1110.5 373.1 L1107.9 370.1 L1105.4 367 L1103 363.7 L1100.8 360.2 L1098.7 356.7 L1096.7 353.1 L1094.9 349.4 L1093.2 345.7 L1091.7 342 L1090.4 338.2 L1089.3 334.5 L1088.4 330.8 L1087.6 327.1 L1087.1 323.5 L1086.8 320 L1086.6 316.6 L1086.7 313.3 L1087 310.1 L1087.5 307 L1088.2 304.2 L1089 301.5 L1090.1 299 L1091.4 296.7 L1092.8 294.6 L1094.4 292.7 L1096.2 291.1 L1098.1 289.7 L1100.2 288.6 L1102.4 287.7 L1104.8 287.1 L1107.2 286.7 L1109.8 286.6 L1112.4 286.8 L1115.2 287.2 L1117.9 287.9 L1120.8 288.8 L1123.7 290 L1126.6 291.4 L1129.5 293.1 L1132.4 295 L1135.2 297.1 L1138.1 299.5 L1140.9 302 L1143.6 304.8 L1146.2 307.7 L1148.8 310.7 L1151.3 313.9 L1153.6 317.3 L1155.8 320.7 L1157.9 324.3 L1159.8 327.9 L1161.6 331.6 L1163.2 335.3 L1164.7 339 L1165.9 342.8 L1167 346.5 L1167.9 350.2 L1168.5 353.9 L1169 357.5 L1169.3 361 L1169.4 364.3 L1169.2 367.6 L1168.9 370.8 L1168.4 373.8 L1167.6 376.6 L1166.7 379.2 L1165.6 381.7 L1164.3 383.9 L1162.8 385.9 L1161.1 387.7 L1159.3 389.3 L1157.3 390.6 L1155.2 391.7 L1153 392.5 L1150.6 393.1 L1148.1 393.4 L1145.5 393.4 L1142.8 393.2 L1140.1 392.7" fill="none" stroke="#000" stroke-width="1.6"/>
<path d="M1119.3 378.4 L1116.7 376 L1114.2 373.5 L1111.7 370.9 L1109.3 368.1 L1106.9 365.1 L1104.7 362 L1102.6 358.8 L1100.7 355.6 L1098.8 352.2 L1097.1 348.8 L1095.6 345.3 L1094.2 341.9 L1093 338.4 L1091.9 334.9 L1091.1 331.4 L1090.4 328 L1089.9 324.6 L1089.6 321.4 L1089.5 318.2 L1089.5 315.1 L1089.8 312.1 L1090.2 309.3 L1090.9 306.6 L1091.7 304.1 L1092.7 301.8 L1093.9 299.6 L1095.2 297.7 L1096.7 296 L1098.4 294.5 L1100.2 293.2 L1102.1 292.1 L1104.2 291.3 L1106.3 290.7 L1108.6 290.3 L1111 290.2 L1113.5 290.4 L1116 290.8 L1118.6 291.4 L1121.3 292.3 L1124 293.4 L1126.7 294.8 L1129.4 296.3 L1132.1 298.1 L1134.7 300.1 L1137.4 302.3 L1140 304.6 L1142.5 307.2 L1145 309.9 L1147.4 312.7 L1149.7 315.7 L1151.9 318.8 L1153.9 322 L1155.9 325.3 L1157.7 328.7 L1159.3 332.1 L1160.8 335.6 L1162.1 339.1 L1163.3 342.6 L1164.3 346.1 L1165.1 349.5 L1165.8 352.9 L1166.2 356.3 L1166.5 359.5 L1166.5 362.7 L1166.4 365.7 L1166.1 368.7 L1165.6 371.4 L1164.9 374.1 L1164.1 376.5 L1163 378.8 L1161.8 380.9 L1160.4 382.8 L1158.9 384.5 L1157.2 385.9 L1155.3 387.2 L1153.4 388.1 L1151.3 388.9 L1149 389.4 L1146.7 389.7 L1144.3 389.7 L1141.8 389.5 L1139.3 389.1" fill="none" stroke="#000" stroke-width="1.3"/>
<path d="M1118.7 381.2 L1119.3 378.4" fill="none" stroke="#000" stroke-width="1.3"/>
<path d="M1118.7 381.2 L1124.3 386.7 L1124.9 379.7 L1119.3 378.4Z" fill="#fff" stroke="#000" stroke-width="1.4"/>
<ellipse cx="1121.8" cy="381.5" rx="2" ry="2.2" transform="rotate(-30 1121.8 381.5)" fill="none" stroke="#000" stroke-width="1.0"/>
<path d="M1140.1 392.7 L1139.3 389.1" fill="none" stroke="#000" stroke-width="1.3"/>
<path d="M1140.1 392.7 L1134.6 392.2 L1133.6 384.4 L1139.3 389.1Z" fill="#fff" stroke="#000" stroke-width="1.4"/>
<ellipse cx="1136.9" cy="389.6" rx="2" ry="2.2" transform="rotate(-30 1136.9 389.6)" fill="none" stroke="#000" stroke-width="1.0"/>
<path d="M1011 422 L1040 439" fill="none" stroke="#000" stroke-width="1.0"/>
<path d="M1048 444 L1068 456" fill="none" stroke="#000" stroke-width="1.0"/>
<ellipse cx="1090" cy="469" rx="19.8" ry="34.2" transform="rotate(30 1090 469)" fill="none" stroke="#fff" stroke-width="8.5"/>
<ellipse cx="1090" cy="469" rx="21.1" ry="36.5" transform="rotate(30 1090 469)" fill="none" stroke="#000" stroke-width="1.7"/>
<ellipse cx="1090" cy="469" rx="18.5" ry="32" transform="rotate(30 1090 469)" fill="none" stroke="#000" stroke-width="1.7"/>
<ellipse cx="1133.7" cy="494" rx="19.8" ry="34.2" transform="rotate(30 1133.7 494)" fill="none" stroke="#fff" stroke-width="8.5"/>
<ellipse cx="1133.7" cy="494" rx="21.1" ry="36.5" transform="rotate(30 1133.7 494)" fill="none" stroke="#000" stroke-width="1.7"/>
<ellipse cx="1133.7" cy="494" rx="18.5" ry="32" transform="rotate(30 1133.7 494)" fill="none" stroke="#000" stroke-width="1.7"/>
<path d="M1075 460 L1110 480" fill="none" stroke="#000" stroke-width="1.0"/>
<path d="M1120 486 L1165 512" fill="none" stroke="#000" stroke-width="1.0"/>
<path d="M1027.2 495.5 L1027.8 495.2 L1028.3 495 L1028.9 494.9 L1029.6 494.8 L1030.2 494.8 L1030.9 494.9 L1031.6 495 L1032.3 495.2 L1033.1 495.4 L1033.8 495.8 L1034.5 496.1 L1035.3 496.6 L1036 497.1 L1036.7 497.6 L1037.5 498.3 L1038.2 498.9 L1038.9 499.6 L1039.5 500.4 L1040.2 501.2 L1040.8 502 L1041.4 502.8 L1042 503.7 L1042.5 504.6 L1043 505.6 L1043.4 506.5 L1043.8 507.4 L1044.2 508.4 L1044.5 509.4 L1044.8 510.3 L1045 511.2 L1045.1 512.2 L1045.2 513.1 L1045.3 514 L1045.3 514.8 L1045.3 515.7 L1045.2 516.5 L1045.1 517.2 L1044.9 517.9 L1044.6 518.6 L1044.3 519.2 L1044 519.8 L1043.6 520.3 L1043.2 520.8 L1042.7 521.2 L1042.2 521.5 L1027.5 530 L1027 530.3 L1026.4 530.5 L1025.8 530.6 L1025.1 530.7 L1024.5 530.7 L1023.8 530.6 L1023.1 530.5 L1022.4 530.3 L1021.7 530.1 L1020.9 529.7 L1020.2 529.4 L1019.4 528.9 L1018.7 528.4 L1018 527.9 L1017.3 527.2 L1016.5 526.6 L1015.9 525.9 L1015.2 525.1 L1014.5 524.3 L1013.9 523.5 L1013.3 522.7 L1012.8 521.8 L1012.2 520.9 L1011.8 519.9 L1011.3 519 L1010.9 518.1 L1010.5 517.1 L1010.2 516.1 L1010 515.2 L1009.8 514.3 L1009.6 513.3 L1009.5 512.4 L1009.4 511.5 L1009.4 510.7 L1009.4 509.8 L1009.5 509 L1009.7 508.3 L1009.9 507.6 L1010.1 506.9 L1010.4 506.3 L1010.7 505.7 L1011.1 505.2 L1011.5 504.7 L1012 504.3 L1012.5 504Z" fill="#fff" stroke="#000" stroke-width="1.6"/>
<ellipse cx="1020" cy="517" rx="8.7" ry="15" transform="rotate(-30 1020 517)" fill="none" stroke="#000" stroke-width="1.6"/>
<ellipse cx="1020" cy="517" rx="6.4" ry="11" transform="rotate(-30 1020 517)" fill="none" stroke="#000" stroke-width="1.0"/>
<path d="M1015.4 516.9 L1015.7 516.8 L1016 516.7 L1016.3 516.6 L1016.6 516.6 L1016.9 516.6 L1017.3 516.6 L1017.6 516.6 L1018 516.7 L1018.3 516.9 L1018.7 517 L1019.1 517.2 L1019.5 517.4 L1019.8 517.7 L1020.2 518 L1020.5 518.3 L1020.9 518.6 L1021.2 519 L1021.6 519.3 L1021.9 519.7 L1022.2 520.1 L1022.5 520.6 L1022.8 521 L1023.1 521.5 L1023.3 521.9 L1023.5 522.4 L1023.7 522.9 L1023.9 523.3 L1024.1 523.8 L1024.2 524.3 L1024.3 524.8 L1024.4 525.2 L1024.4 525.7 L1024.5 526.1 L1024.5 526.6 L1024.5 527 L1024.4 527.4 L1024.3 527.8 L1024.2 528.1 L1024.1 528.5 L1024 528.8 L1023.8 529 L1023.6 529.3 L1023.4 529.5 L1023.2 529.7 L1022.9 529.9 L991.8 547.9 L991.5 548 L991.2 548.1 L990.9 548.2 L990.6 548.2 L990.2 548.2 L989.9 548.2 L989.6 548.2 L989.2 548.1 L988.8 547.9 L988.5 547.8 L988.1 547.6 L987.7 547.4 L987.4 547.1 L987 546.8 L986.6 546.5 L986.3 546.2 L985.9 545.8 L985.6 545.5 L985.3 545.1 L985 544.7 L984.7 544.2 L984.4 543.8 L984.1 543.3 L983.9 542.9 L983.7 542.4 L983.5 541.9 L983.3 541.5 L983.1 541 L983 540.5 L982.9 540 L982.8 539.6 L982.7 539.1 L982.7 538.7 L982.7 538.2 L982.7 537.8 L982.8 537.4 L982.8 537 L982.9 536.7 L983 536.3 L983.2 536 L983.4 535.8 L983.6 535.5 L983.8 535.3 L984 535.1 L984.2 534.9Z" fill="#fff" stroke="#000" stroke-width="1.6"/>
<ellipse cx="988" cy="541.4" rx="4.3" ry="7.5" transform="rotate(-30 988 541.4)" fill="none" stroke="#000" stroke-width="1.6"/>
<path d="M1161.5 553.9 L1160.3 553.1 L1159.1 552.1 L1158 550.9 L1157 549.6 L1156.2 548.2 L1155.5 546.6 L1154.9 544.9 L1154.4 543.1 L1154 541.2 L1153.8 539.2 L1153.7 537.1 L1153.7 534.9 L1153.9 532.6 L1154.2 530.3 L1154.6 528 L1155.1 525.6 L1155.8 523.2 L1156.6 520.7 L1157.5 518.3 L1158.5 515.9 L1159.7 513.5 L1160.9 511.2 L1162.2 508.9 L1163.6 506.7 L1165.1 504.5 L1166.7 502.4 L1168.3 500.4 L1170 498.5 L1171.8 496.7 L1173.6 495 L1175.4 493.5 L1177.3 492.1 L1179.1 490.8 L1181 489.7 L1182.9 488.7 L1184.7 487.9 L1186.6 487.3 L1188.4 486.8 L1190.2 486.5 L1191.9 486.3 L1193.6 486.3 L1195.2 486.5 L1196.7 486.9 L1198.2 487.4 L1199.5 488.1 L1216 497.6 L1217.3 498.4 L1218.5 499.4 L1219.5 500.6 L1220.5 501.9 L1221.4 503.3 L1222.1 504.9 L1222.7 506.6 L1223.2 508.4 L1223.5 510.3 L1223.8 512.3 L1223.9 514.4 L1223.8 516.6 L1223.7 518.9 L1223.4 521.2 L1223 523.5 L1222.4 525.9 L1221.7 528.3 L1220.9 530.8 L1220 533.2 L1219 535.6 L1217.9 538 L1216.7 540.3 L1215.3 542.6 L1213.9 544.8 L1212.4 547 L1210.8 549.1 L1209.2 551.1 L1207.5 553 L1205.7 554.8 L1204 556.5 L1202.1 558 L1200.3 559.4 L1198.4 560.7 L1196.5 561.8 L1194.7 562.8 L1192.8 563.6 L1191 564.2 L1189.1 564.7 L1187.4 565 L1185.6 565.2 L1184 565.2 L1182.4 565 L1180.8 564.6 L1179.4 564.1 L1178 563.4Z" fill="#fff" stroke="#000" stroke-width="1.5"/>
<path d="M1174.4 560 L1173.2 559 L1172.2 557.8 L1171.3 556.4 L1170.4 555 L1169.8 553.4 L1169.2 551.7 L1168.8 549.8 L1168.5 547.9 L1168.3 545.8 L1168.2 543.7 L1168.3 541.5 L1168.6 539.3 L1168.9 537 L1169.4 534.6 L1170 532.2 L1170.7 529.8 L1171.6 527.4 L1172.5 525 L1173.6 522.7 L1174.8 520.3 L1176.1 518 L1177.4 515.8 L1178.9 513.6 L1180.4 511.5 L1182.1 509.5 L1183.7 507.6 L1185.4 505.8 L1187.2 504.1 L1189 502.5 L1190.8 501.1 L1192.7 499.8 L1194.6 498.7 L1196.4 497.7 L1198.3 496.9 L1200.1 496.2 L1201.9 495.7 L1203.7 495.4 L1205.4 495.2 L1207 495.3 L1208.6 495.4 L1210.1 495.8" fill="none" stroke="#000" stroke-width="1.6"/>
<path d="M1170.4 558.8 L1169.2 557.8 L1168.1 556.6 L1167.2 555.2 L1166.3 553.7 L1165.6 552 L1165.1 550.3 L1164.6 548.4 L1164.3 546.4 L1164.1 544.3 L1164.1 542.1 L1164.2 539.9 L1164.4 537.5 L1164.8 535.2 L1165.2 532.7 L1165.9 530.3 L1166.6 527.8 L1167.5 525.4 L1168.5 522.9 L1169.6 520.5 L1170.8 518.1 L1172.1 515.7 L1173.5 513.4 L1175 511.2 L1176.6 509 L1178.3 507 L1180 505 L1181.7 503.2 L1183.6 501.4 L1185.4 499.8 L1187.3 498.4 L1189.2 497 L1191.1 495.9 L1193 494.9 L1194.9 494 L1196.8 493.3 L1198.6 492.8 L1200.4 492.5 L1202.2 492.3 L1203.9 492.3 L1205.5 492.5 L1207.1 492.9" fill="none" stroke="#000" stroke-width="1.0"/>
<path d="M1167.4 556 L1166.3 555 L1165.3 553.8 L1164.3 552.4 L1163.5 551 L1162.8 549.4 L1162.3 547.7 L1161.8 545.8 L1161.5 543.9 L1161.4 541.8 L1161.3 539.7 L1161.4 537.5 L1161.6 535.3 L1162 533 L1162.5 530.6 L1163.1 528.2 L1163.8 525.8 L1164.6 523.4 L1165.6 521 L1166.7 518.7 L1167.9 516.3 L1169.1 514 L1170.5 511.8 L1172 509.6 L1173.5 507.5 L1175.1 505.5 L1176.8 503.6 L1178.5 501.8 L1180.3 500.1 L1182.1 498.5 L1183.9 497.1 L1185.8 495.8 L1187.6 494.7 L1189.5 493.7 L1191.3 492.9 L1193.2 492.2 L1195 491.7 L1196.7 491.4 L1198.4 491.2 L1200.1 491.3 L1201.7 491.4 L1203.2 491.8" fill="none" stroke="#000" stroke-width="1.6"/>
<path d="M1163.4 554.8 L1162.3 553.8 L1161.2 552.6 L1160.2 551.2 L1159.4 549.7 L1158.7 548 L1158.1 546.3 L1157.7 544.4 L1157.4 542.4 L1157.2 540.3 L1157.1 538.1 L1157.2 535.9 L1157.5 533.5 L1157.8 531.2 L1158.3 528.7 L1158.9 526.3 L1159.7 523.8 L1160.6 521.4 L1161.6 518.9 L1162.7 516.5 L1163.9 514.1 L1165.2 511.7 L1166.6 509.4 L1168.1 507.2 L1169.7 505 L1171.3 503 L1173 501 L1174.8 499.2 L1176.6 497.4 L1178.5 495.8 L1180.4 494.4 L1182.3 493 L1184.2 491.9 L1186.1 490.9 L1188 490 L1189.9 489.3 L1191.7 488.8 L1193.5 488.5 L1195.3 488.3 L1197 488.3 L1198.6 488.5 L1200.2 488.9" fill="none" stroke="#000" stroke-width="1.0"/>
<path d="M1160.5 552 L1159.4 551 L1158.3 549.8 L1157.4 548.4 L1156.6 547 L1155.9 545.4 L1155.3 543.7 L1154.9 541.8 L1154.6 539.9 L1154.4 537.8 L1154.4 535.7 L1154.5 533.5 L1154.7 531.3 L1155 529 L1155.5 526.6 L1156.1 524.2 L1156.9 521.8 L1157.7 519.4 L1158.7 517 L1159.8 514.7 L1160.9 512.3 L1162.2 510 L1163.6 507.8 L1165.1 505.6 L1166.6 503.5 L1168.2 501.5 L1169.9 499.6 L1171.6 497.8 L1173.4 496.1 L1175.2 494.5 L1177 493.1 L1178.8 491.8 L1180.7 490.7 L1182.6 489.7 L1184.4 488.9 L1186.2 488.2 L1188 487.7 L1189.8 487.4 L1191.5 487.2 L1193.2 487.3 L1194.8 487.4 L1196.3 487.8" fill="none" stroke="#000" stroke-width="1.6"/>
<path d="M1216.0 497.6 L1224 497 L1300 497 C1300 545 1285 572 1240 579 C1212 581 1188 574 1178.0 563.4 L1175.8 562.2 L1177.2 562.8 L1178.7 563.4 L1180.2 563.7 L1181.8 563.9 L1183.5 563.9 L1185.2 563.8 L1187.0 563.5 L1188.8 563.0 L1190.6 562.3 L1192.5 561.5 L1194.4 560.5 L1196.2 559.4 L1198.1 558.2 L1200.0 556.7 L1201.8 555.2 L1203.6 553.5 L1205.3 551.7 L1207.0 549.9 L1208.7 547.9 L1210.2 545.8 L1211.7 543.6 L1213.2 541.4 L1214.5 539.1 L1215.7 536.7 L1216.8 534.3 L1217.9 531.9 L1218.8 529.5 L1219.6 527.1 L1220.2 524.7 L1220.8 522.3 L1221.2 519.9 L1221.5 517.6 L1221.7 515.4 L1221.7 513.2 L1221.6 511.1 L1221.4 509.1 L1221.0 507.2 L1220.5 505.3 L1219.9 503.6 L1219.2 502.1 L1218.3 500.6 L1217.4 499.3 L1216.3 498.2 L1215.1 497.2 L1213.8 496.3Z" fill="#fff" stroke="none"/>
<path d="M1300 503 C1300 545 1285 572 1240 579 C1212 581 1188 574 1178.0 563.4" fill="none" stroke="#000" stroke-width="1.5"/>
<path d="M1176.4 562.3 L1175.2 561.3 L1174.2 560.1 L1173.2 558.7 L1172.4 557.2 L1171.7 555.6 L1171.1 553.8 L1170.7 552 L1170.4 550 L1170.2 547.9 L1170.1 545.8 L1170.2 543.5 L1170.4 541.2 L1170.8 538.9 L1171.3 536.5 L1171.9 534 L1172.6 531.6 L1173.5 529.1 L1174.4 526.7 L1175.5 524.3 L1176.7 521.9 L1178 519.5 L1179.4 517.2 L1180.9 515 L1182.4 512.9 L1184.1 510.8 L1185.7 508.8 L1187.5 507 L1189.3 505.2 L1191.1 503.6 L1193 502.1 L1194.9 500.8 L1196.8 499.6 L1198.7 498.6 L1200.6 497.7 L1202.4 497 L1204.3 496.4 L1206.1 496.1 L1207.8 495.9 L1209.6 495.8 L1211.2 496 L1212.8 496.3 L1214.3 496.8" fill="none" stroke="#000" stroke-width="1.5"/>
<path d="M1226.5 446 L1226.5 497 L1295.8 497 L1295.8 446 Z" fill="#fff" stroke="none"/>
<path d="M1226.5 446 L1226.5 490" fill="none" stroke="#000" stroke-width="1.5"/>
<path d="M1295.8 446 L1295.8 490" fill="none" stroke="#000" stroke-width="1.5"/>
<path d="M1226.4 453 L1226.5 454.3 L1226.7 455.6 L1227.2 457 L1227.7 458.2 L1228.5 459.5 L1229.4 460.7 L1230.5 461.9 L1231.7 463.1 L1233 464.2 L1234.5 465.2 L1236.1 466.2 L1237.8 467.1 L1239.7 468 L1241.7 468.8 L1243.7 469.5 L1245.8 470.1 L1248 470.6 L1250.3 471.1 L1252.6 471.5 L1255 471.7 L1257.4 471.9 L1259.8 472 L1262.2 472 L1264.6 471.9 L1267 471.7 L1269.4 471.5 L1271.7 471.1 L1274 470.6 L1276.2 470.1 L1278.3 469.5 L1280.3 468.8 L1282.3 468 L1284.2 467.1 L1285.9 466.2 L1287.5 465.2 L1289 464.2 L1290.3 463.1 L1291.5 461.9 L1292.6 460.7 L1293.5 459.5 L1294.3 458.2 L1294.8 457 L1295.3 455.6 L1295.5 454.3 L1295.6 453" fill="none" stroke="#000" stroke-width="1.4"/>
<path d="M1226.4 459.3 L1226.5 460.6 L1226.7 461.9 L1227.2 463.3 L1227.7 464.5 L1228.5 465.8 L1229.4 467 L1230.5 468.2 L1231.7 469.4 L1233 470.5 L1234.5 471.5 L1236.1 472.5 L1237.8 473.4 L1239.7 474.3 L1241.7 475.1 L1243.7 475.8 L1245.8 476.4 L1248 476.9 L1250.3 477.4 L1252.6 477.8 L1255 478 L1257.4 478.2 L1259.8 478.3 L1262.2 478.3 L1264.6 478.2 L1267 478 L1269.4 477.8 L1271.7 477.4 L1274 476.9 L1276.2 476.4 L1278.3 475.8 L1280.3 475.1 L1282.3 474.3 L1284.2 473.4 L1285.9 472.5 L1287.5 471.5 L1289 470.5 L1290.3 469.4 L1291.5 468.2 L1292.6 467 L1293.5 465.8 L1294.3 464.5 L1294.8 463.3 L1295.3 461.9 L1295.5 460.6 L1295.6 459.3" fill="none" stroke="#000" stroke-width="1.4"/>
<path d="M1226.4 465.6 L1226.5 466.9 L1226.7 468.2 L1227.2 469.6 L1227.7 470.8 L1228.5 472.1 L1229.4 473.3 L1230.5 474.5 L1231.7 475.7 L1233 476.8 L1234.5 477.8 L1236.1 478.8 L1237.8 479.7 L1239.7 480.6 L1241.7 481.4 L1243.7 482.1 L1245.8 482.7 L1248 483.2 L1250.3 483.7 L1252.6 484.1 L1255 484.3 L1257.4 484.5 L1259.8 484.6 L1262.2 484.6 L1264.6 484.5 L1267 484.3 L1269.4 484.1 L1271.7 483.7 L1274 483.2 L1276.2 482.7 L1278.3 482.1 L1280.3 481.4 L1282.3 480.6 L1284.2 479.7 L1285.9 478.8 L1287.5 477.8 L1289 476.8 L1290.3 475.7 L1291.5 474.5 L1292.6 473.3 L1293.5 472.1 L1294.3 470.8 L1294.8 469.6 L1295.3 468.2 L1295.5 466.9 L1295.6 465.6" fill="none" stroke="#000" stroke-width="1.4"/>
<path d="M1226.4 471.9 L1226.5 473.2 L1226.7 474.5 L1227.2 475.9 L1227.7 477.1 L1228.5 478.4 L1229.4 479.6 L1230.5 480.8 L1231.7 482 L1233 483.1 L1234.5 484.1 L1236.1 485.1 L1237.8 486 L1239.7 486.9 L1241.7 487.7 L1243.7 488.4 L1245.8 489 L1248 489.5 L1250.3 490 L1252.6 490.4 L1255 490.6 L1257.4 490.8 L1259.8 490.9 L1262.2 490.9 L1264.6 490.8 L1267 490.6 L1269.4 490.4 L1271.7 490 L1274 489.5 L1276.2 489 L1278.3 488.4 L1280.3 487.7 L1282.3 486.9 L1284.2 486 L1285.9 485.1 L1287.5 484.1 L1289 483.1 L1290.3 482 L1291.5 480.8 L1292.6 479.6 L1293.5 478.4 L1294.3 477.1 L1294.8 475.9 L1295.3 474.5 L1295.5 473.2 L1295.6 471.9" fill="none" stroke="#000" stroke-width="1.4"/>
<path d="M1226.4 478.2 L1226.5 479.5 L1226.7 480.8 L1227.2 482.2 L1227.7 483.4 L1228.5 484.7 L1229.4 485.9 L1230.5 487.1 L1231.7 488.3 L1233 489.4 L1234.5 490.4 L1236.1 491.4 L1237.8 492.3 L1239.7 493.2 L1241.7 494 L1243.7 494.7 L1245.8 495.3 L1248 495.8 L1250.3 496.3 L1252.6 496.7 L1255 496.9 L1257.4 497.1 L1259.8 497.2 L1262.2 497.2 L1264.6 497.1 L1267 496.9 L1269.4 496.7 L1271.7 496.3 L1274 495.8 L1276.2 495.3 L1278.3 494.7 L1280.3 494 L1282.3 493.2 L1284.2 492.3 L1285.9 491.4 L1287.5 490.4 L1289 489.4 L1290.3 488.3 L1291.5 487.1 L1292.6 485.9 L1293.5 484.7 L1294.3 483.4 L1294.8 482.2 L1295.3 480.8 L1295.5 479.5 L1295.6 478.2" fill="none" stroke="#000" stroke-width="1.4"/>
<path d="M1226.4 484.5 L1226.5 485.8 L1226.7 487.1 L1227.2 488.5 L1227.7 489.7 L1228.5 491 L1229.4 492.2 L1230.5 493.4 L1231.7 494.6 L1233 495.7 L1234.5 496.7 L1236.1 497.7 L1237.8 498.6 L1239.7 499.5 L1241.7 500.3 L1243.7 501 L1245.8 501.6 L1248 502.1 L1250.3 502.6 L1252.6 503 L1255 503.2 L1257.4 503.4 L1259.8 503.5 L1262.2 503.5 L1264.6 503.4 L1267 503.2 L1269.4 503 L1271.7 502.6 L1274 502.1 L1276.2 501.6 L1278.3 501 L1280.3 500.3 L1282.3 499.5 L1284.2 498.6 L1285.9 497.7 L1287.5 496.7 L1289 495.7 L1290.3 494.6 L1291.5 493.4 L1292.6 492.2 L1293.5 491 L1294.3 489.7 L1294.8 488.5 L1295.3 487.1 L1295.5 485.8 L1295.6 484.5" fill="none" stroke="#000" stroke-width="1.4"/>
<path d="M1226.4 490.8 L1226.5 492.1 L1226.7 493.4 L1227.2 494.8 L1227.7 496 L1228.5 497.3 L1229.4 498.5 L1230.5 499.7 L1231.7 500.9 L1233 502 L1234.5 503 L1236.1 504 L1237.8 504.9 L1239.7 505.8 L1241.7 506.6 L1243.7 507.3 L1245.8 507.9 L1248 508.4 L1250.3 508.9 L1252.6 509.3 L1255 509.5 L1257.4 509.7 L1259.8 509.8 L1262.2 509.8 L1264.6 509.7 L1267 509.5 L1269.4 509.3 L1271.7 508.9 L1274 508.4 L1276.2 507.9 L1278.3 507.3 L1280.3 506.6 L1282.3 505.8 L1284.2 504.9 L1285.9 504 L1287.5 503 L1289 502 L1290.3 500.9 L1291.5 499.7 L1292.6 498.5 L1293.5 497.3 L1294.3 496 L1294.8 494.8 L1295.3 493.4 L1295.5 492.1 L1295.6 490.8" fill="none" stroke="#000" stroke-width="1.4"/>
<path d="M1222.5 497 L1222.6 498.5 L1222.9 499.9 L1223.3 501.4 L1224 502.8 L1224.8 504.2 L1225.8 505.6 L1227 506.9 L1228.4 508.2 L1229.9 509.4 L1231.5 510.6 L1233.3 511.7 L1235.2 512.7 L1237.3 513.7 L1239.5 514.6 L1241.8 515.3 L1244.1 516 L1246.6 516.6 L1249.1 517.1 L1251.7 517.5 L1254.3 517.9 L1257 518.1 L1259.7 518.2 L1262.3 518.2 L1265 518.1 L1267.7 517.9 L1270.3 517.5 L1272.9 517.1 L1275.4 516.6 L1277.9 516 L1280.2 515.3 L1282.5 514.6 L1284.7 513.7 L1286.8 512.7 L1288.7 511.7 L1290.5 510.6 L1292.1 509.4 L1293.6 508.2 L1295 506.9 L1296.2 505.6 L1297.2 504.2 L1298 502.8 L1298.7 501.4 L1299.1 499.9 L1299.4 498.5 L1299.5 497" fill="none" stroke="#000" stroke-width="1.3"/>
<path d="M1222.5 500 L1222.6 501.5 L1222.9 502.9 L1223.3 504.4 L1224 505.8 L1224.8 507.2 L1225.8 508.6 L1227 509.9 L1228.4 511.2 L1229.9 512.4 L1231.5 513.6 L1233.3 514.7 L1235.2 515.7 L1237.3 516.7 L1239.5 517.6 L1241.8 518.3 L1244.1 519 L1246.6 519.6 L1249.1 520.1 L1251.7 520.5 L1254.3 520.9 L1257 521.1 L1259.7 521.2 L1262.3 521.2 L1265 521.1 L1267.7 520.9 L1270.3 520.5 L1272.9 520.1 L1275.4 519.6 L1277.9 519 L1280.2 518.3 L1282.5 517.6 L1284.7 516.7 L1286.8 515.7 L1288.7 514.7 L1290.5 513.6 L1292.1 512.4 L1293.6 511.2 L1295 509.9 L1296.2 508.6 L1297.2 507.2 L1298 505.8 L1298.7 504.4 L1299.1 502.9 L1299.4 501.5 L1299.5 500" fill="none" stroke="#000" stroke-width="1.0"/>
<path d="M1222.5 488 L1222.5 500" fill="none" stroke="#000" stroke-width="1.2"/>
<path d="M1299.5 488 L1299.5 500" fill="none" stroke="#000" stroke-width="1.2"/>
<ellipse cx="1261" cy="446" rx="18.7" ry="34.6" transform="rotate(90 1261 446)" fill="#fff" stroke="#000" stroke-width="1.6"/>
<ellipse cx="1261" cy="446.5" rx="17" ry="31.5" transform="rotate(90 1261 446.5)" fill="none" stroke="#000" stroke-width="1.0"/>
<path d="M1267.5 574 L1340.5 536 L1344 538 L1344 617 L1273 654 L1269.5 652Z" fill="#fff" stroke="#000" stroke-width="1.5"/>
<path d="M1273 654 L1271 576 L1344 538" fill="none" stroke="#000" stroke-width="1.0"/>
<path d="M1271 576 L1267.5 574" fill="none" stroke="#000" stroke-width="0.9"/>
<ellipse cx="1310" cy="595.7" rx="22.5" ry="39" transform="rotate(30 1310 595.7)" fill="none" stroke="#000" stroke-width="1.4"/>
<path d="M1322.6 561.7 L1324.2 561.7 L1325.8 561.9 L1327.4 562.3 L1328.8 562.8 L1330.2 563.5 L1331.5 564.3 L1332.7 565.3 L1333.7 566.5 L1334.7 567.8 L1335.6 569.2 L1336.3 570.8 L1336.9 572.5 L1337.4 574.3 L1337.7 576.2 L1338 578.2 L1338.1 580.3 L1338 582.5 L1337.9 584.8 L1337.6 587.1 L1337.2 589.4 L1336.6 591.8 L1335.9 594.2 L1335.1 596.7 L1334.2 599.1 L1333.2 601.5 L1332.1 603.9 L1330.9 606.2 L1329.5 608.5 L1328.1 610.7 L1326.6 612.9" fill="none" stroke="#000" stroke-width="0.9"/>
<ellipse cx="1282.4" cy="580.7" rx="3.8" ry="6.5" transform="rotate(30 1282.4 580.7)" fill="none" stroke="#000" stroke-width="1.3"/>
<path d="M1287.2 577.9 L1287.2 578.1 L1287.3 578.4 L1287.3 578.7 L1287.3 579 L1287.3 579.4 L1287.2 579.7 L1287.2 580 L1287.1 580.4 L1287 580.7 L1286.9 581.1 L1286.8 581.4 L1286.7 581.8 L1286.5 582.1 L1286.3 582.5 L1286.2 582.8 L1286 583.1 L1285.7 583.4 L1285.5 583.7 L1285.3 584 L1285 584.3 L1284.8 584.6 L1284.5 584.8 L1284.3 585.1 L1284 585.3 L1283.7 585.5 L1283.5 585.7 L1283.2 585.8 L1282.9 585.9 L1282.7 586 L1282.4 586.1 L1282.1 586.2 L1281.9 586.2 L1281.6 586.2 L1281.4 586.2 L1281.2 586.2 L1281 586.1 L1280.7 586 L1280.6 585.9 L1280.4 585.8 L1280.2 585.6" fill="none" stroke="#000" stroke-width="0.9"/>
<ellipse cx="1335.8" cy="611.5" rx="3.8" ry="6.5" transform="rotate(30 1335.8 611.5)" fill="none" stroke="#000" stroke-width="1.3"/>
<path d="M1340.6 608.7 L1340.6 608.9 L1340.7 609.2 L1340.7 609.5 L1340.7 609.8 L1340.7 610.2 L1340.6 610.5 L1340.6 610.8 L1340.5 611.2 L1340.4 611.5 L1340.3 611.9 L1340.2 612.2 L1340.1 612.6 L1339.9 612.9 L1339.7 613.3 L1339.5 613.6 L1339.4 613.9 L1339.1 614.2 L1338.9 614.5 L1338.7 614.8 L1338.4 615.1 L1338.2 615.4 L1337.9 615.6 L1337.7 615.9 L1337.4 616.1 L1337.1 616.3 L1336.9 616.5 L1336.6 616.6 L1336.3 616.7 L1336.1 616.8 L1335.8 616.9 L1335.5 617 L1335.3 617 L1335 617 L1334.8 617 L1334.6 617 L1334.4 616.9 L1334.1 616.8 L1334 616.7 L1333.8 616.6 L1333.6 616.4" fill="none" stroke="#000" stroke-width="0.9"/>
<path d="M1368.4 622.7 L1368.5 622.8 L1368.7 622.9 L1368.8 623.1 L1368.9 623.2 L1369.1 623.4 L1369.2 623.6 L1369.2 623.9 L1369.3 624.1 L1369.3 624.3 L1369.4 624.6 L1369.4 624.9 L1369.4 625.2 L1369.4 625.5 L1369.3 625.8 L1369.3 626.1 L1369.2 626.4 L1369.1 626.7 L1369 627 L1368.9 627.4 L1368.8 627.7 L1368.6 628 L1368.4 628.3 L1368.3 628.6 L1368.1 628.9 L1367.9 629.2 L1367.7 629.4 L1367.5 629.7 L1367.2 630 L1367 630.2 L1366.8 630.4 L1366.5 630.6 L1366.3 630.8 L1366 631 L1365.8 631.1 L1365.5 631.2 L1365.3 631.4 L1365.1 631.4 L1364.8 631.5 L1364.6 631.5 L1364.4 631.6 L1364.1 631.6 L1363.9 631.5 L1363.7 631.5 L1363.5 631.4 L1363.4 631.3 L1349.5 623.3 L1349.3 623.2 L1349.2 623.1 L1349 622.9 L1348.9 622.8 L1348.8 622.6 L1348.7 622.4 L1348.6 622.1 L1348.6 621.9 L1348.5 621.7 L1348.5 621.4 L1348.5 621.1 L1348.5 620.8 L1348.5 620.5 L1348.5 620.2 L1348.6 619.9 L1348.7 619.6 L1348.7 619.3 L1348.8 619 L1349 618.6 L1349.1 618.3 L1349.3 618 L1349.4 617.7 L1349.6 617.4 L1349.8 617.1 L1350 616.8 L1350.2 616.6 L1350.4 616.3 L1350.6 616 L1350.8 615.8 L1351.1 615.6 L1351.3 615.4 L1351.6 615.2 L1351.8 615 L1352.1 614.9 L1352.3 614.8 L1352.6 614.6 L1352.8 614.6 L1353 614.5 L1353.3 614.5 L1353.5 614.4 L1353.7 614.4 L1353.9 614.5 L1354.1 614.5 L1354.3 614.6 L1354.5 614.7Z" fill="#fff" stroke="#000" stroke-width="1.3"/>
<ellipse cx="1352" cy="619" rx="2.9" ry="5" transform="rotate(30 1352 619)" fill="none" stroke="#000" stroke-width="1.3"/>
<path d="M1380.5 626.2 L1380.8 626.4 L1381.1 626.6 L1381.3 626.9 L1381.6 627.2 L1381.8 627.6 L1381.9 627.9 L1382.1 628.3 L1382.2 628.8 L1382.3 629.2 L1382.3 629.7 L1382.4 630.2 L1382.4 630.7 L1382.3 631.2 L1382.2 631.8 L1382.1 632.4 L1382 632.9 L1381.9 633.5 L1381.7 634.1 L1381.5 634.6 L1381.2 635.2 L1380.9 635.8 L1380.7 636.3 L1380.3 636.9 L1380 637.4 L1379.7 637.9 L1379.3 638.4 L1378.9 638.9 L1378.5 639.3 L1378.1 639.8 L1377.6 640.1 L1377.2 640.5 L1376.8 640.8 L1376.3 641.1 L1375.9 641.4 L1375.4 641.6 L1375 641.8 L1374.6 642 L1374.1 642.1 L1373.7 642.2 L1373.3 642.2 L1372.9 642.2 L1372.5 642.2 L1372.2 642.1 L1371.8 642 L1371.5 641.8 L1360.2 635.3 L1359.9 635.1 L1359.7 634.9 L1359.4 634.6 L1359.2 634.3 L1359 633.9 L1358.8 633.6 L1358.7 633.2 L1358.5 632.7 L1358.5 632.3 L1358.4 631.8 L1358.4 631.3 L1358.4 630.8 L1358.4 630.3 L1358.5 629.7 L1358.6 629.1 L1358.7 628.6 L1358.9 628 L1359.1 627.4 L1359.3 626.9 L1359.5 626.3 L1359.8 625.7 L1360.1 625.2 L1360.4 624.6 L1360.7 624.1 L1361.1 623.6 L1361.5 623.1 L1361.9 622.6 L1362.3 622.2 L1362.7 621.7 L1363.1 621.4 L1363.5 621 L1364 620.7 L1364.4 620.4 L1364.9 620.1 L1365.3 619.9 L1365.7 619.7 L1366.2 619.5 L1366.6 619.4 L1367 619.3 L1367.4 619.3 L1367.8 619.3 L1368.2 619.3 L1368.6 619.4 L1368.9 619.5 L1369.2 619.7Z" fill="#fff" stroke="#000" stroke-width="1.4"/>
<ellipse cx="1376" cy="634" rx="5.2" ry="9" transform="rotate(30 1376 634)" fill="none" stroke="#000" stroke-width="1.4"/>
<ellipse cx="1376" cy="634" rx="3.6" ry="4" transform="rotate(30 1376 634)" fill="none" stroke="#000" stroke-width="1.0"/>
<path d="M192.5 879 L255 844" fill="none" stroke="#000" stroke-width="0.9"/>
<path d="M310 811.5 L340 794" fill="none" stroke="#000" stroke-width="0.9"/>
<path d="M365 779 L405 756.5" fill="none" stroke="#000" stroke-width="0.9"/>
<path d="M430 741.5 L468 719.5" fill="none" stroke="#000" stroke-width="0.9"/>
<path d="M505 699 L550 671.5" fill="none" stroke="#000" stroke-width="0.9"/>
<path d="M617.5 631.5 L650 614" fill="none" stroke="#000" stroke-width="0.9"/>
<path d="M663.8 606 L702 583" fill="none" stroke="#000" stroke-width="0.9"/>
<path d="M712 577 L735 565.8" fill="none" stroke="#000" stroke-width="0.9"/>
<path d="M752 556 L790.8 533" fill="none" stroke="#000" stroke-width="0.9"/>
<path d="M798.5 529 L825 513.8" fill="none" stroke="#000" stroke-width="0.9"/>
<path d="M489.6 64 L489.6 114" fill="none" stroke="#444" stroke-width="0.9"/>
<path d="M591 65 L591 107" fill="none" stroke="#444" stroke-width="0.9"/>
<path d="M680.6 115 L680.6 158 L654 170" fill="none" stroke="#444" stroke-width="0.9"/>
<path d="M759 162 L759 204 L729 222" fill="none" stroke="#444" stroke-width="0.9"/>
<path d="M759 204 L759 241" fill="none" stroke="#444" stroke-width="0.9"/>
<path d="M907 246 L907 327" fill="none" stroke="#444" stroke-width="0.9"/>
<path d="M1038.8 283 L1038.8 327" fill="none" stroke="#444" stroke-width="0.9"/>
<path d="M1110 242 L1110 288" fill="none" stroke="#444" stroke-width="0.9"/>
<path d="M1259.4 393 L1259.4 436.6" fill="none" stroke="#444" stroke-width="0.9"/>
<path d="M1333 434.5 L1333 536.7" fill="none" stroke="#444" stroke-width="0.9"/>
<path d="M1352.3 628.5 L1352.3 705" fill="none" stroke="#444" stroke-width="0.9"/>
<path d="M1086 502 L1086 534.5 L1123 556" fill="none" stroke="#444" stroke-width="0.9"/>
<path d="M1123 526 L1123 578" fill="none" stroke="#444" stroke-width="0.9"/>
<path d="M1024.4 528 L1024.4 578" fill="none" stroke="#444" stroke-width="0.9"/>
<path d="M862 685.8 L900 706 L900 758.7" fill="none" stroke="#444" stroke-width="0.9"/>
<path d="M760.8 685 L800 706 L800 758.7" fill="none" stroke="#444" stroke-width="0.9"/>
<path d="M660.8 717.4 L699 739 L699 769" fill="none" stroke="#444" stroke-width="0.9"/>
<path d="M602 744 L602 786.5" fill="none" stroke="#444" stroke-width="0.9"/>
<path d="M495 764 L539 789 L539 826.5" fill="none" stroke="#444" stroke-width="0.9"/>
<path d="M440 834 L440 874" fill="none" stroke="#444" stroke-width="0.9"/>
<path d="M366 884 L366 924" fill="none" stroke="#444" stroke-width="0.9"/>
<path d="M150 776.5 L150 791.5 L195 819" fill="none" stroke="#444" stroke-width="0.9"/>
<path d="M198.5 526.5 L198.5 579" fill="none" stroke="#444" stroke-width="0.9"/>
<text x="471.9" y="47.5" class="lb" textLength="37.7" lengthAdjust="spacingAndGlyphs">46</text>
<text x="573.7" y="47.5" class="lb" textLength="36" lengthAdjust="spacingAndGlyphs">47</text>
<text x="661.3" y="96.8" class="lb" textLength="37.4" lengthAdjust="spacingAndGlyphs">48</text>
<text x="741.3" y="143.8" class="lb" textLength="37.4" lengthAdjust="spacingAndGlyphs">49</text>
<text x="892.3" y="229.8" class="lb" textLength="34.9" lengthAdjust="spacingAndGlyphs">50</text>
<text x="1022.3" y="266.2" class="lb" textLength="33.7" lengthAdjust="spacingAndGlyphs">51</text>
<text x="1093.8" y="225.1" class="lb" textLength="35.9" lengthAdjust="spacingAndGlyphs">52</text>
<text x="1243.3" y="375.5" class="lb" textLength="35.4" lengthAdjust="spacingAndGlyphs">53</text>
<text x="1316.3" y="416.8" class="lb" textLength="36.1" lengthAdjust="spacingAndGlyphs">54</text>
<text x="1334.3" y="738.8" class="lb" textLength="37.4" lengthAdjust="spacingAndGlyphs">55</text>
<text x="1106.1" y="619.2" class="lb" textLength="36.6" lengthAdjust="spacingAndGlyphs">56</text>
<text x="1007.3" y="619.2" class="lb" textLength="36.1" lengthAdjust="spacingAndGlyphs">57</text>
<text x="883.3" y="799.3" class="lb" textLength="36.1" lengthAdjust="spacingAndGlyphs">58</text>
<text x="782.1" y="797.8" class="lb" textLength="36" lengthAdjust="spacingAndGlyphs">59</text>
<text x="682.1" y="808.5" class="lb" textLength="36" lengthAdjust="spacingAndGlyphs">60</text>
<text x="584.3" y="826.3" class="lb" textLength="35.4" lengthAdjust="spacingAndGlyphs">61</text>
<text x="520.3" y="862.8" class="lb" textLength="36.4" lengthAdjust="spacingAndGlyphs">62</text>
<text x="422.8" y="915.3" class="lb" textLength="35.4" lengthAdjust="spacingAndGlyphs">63</text>
<text x="347.8" y="961.3" class="lb" textLength="37.9" lengthAdjust="spacingAndGlyphs">64</text>
<text x="135.3" y="758.8" class="lb" textLength="36.9" lengthAdjust="spacingAndGlyphs">65</text>
<text x="180.3" y="621.3" class="lb" textLength="36.9" lengthAdjust="spacingAndGlyphs">66</text>
</svg></body></html>
